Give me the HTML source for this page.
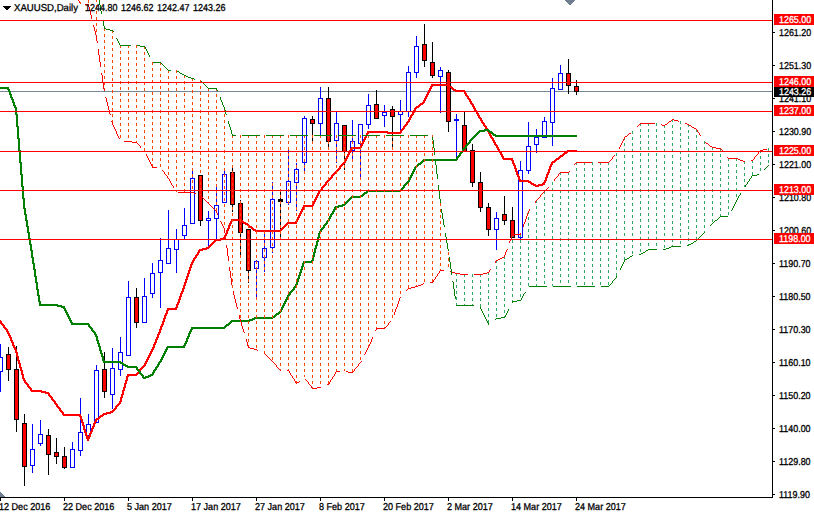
<!DOCTYPE html>
<html><head><meta charset="utf-8"><title>XAUUSD Daily</title>
<style>
html,body{margin:0;padding:0;background:#fff;}
body{width:814px;height:514px;position:relative;overflow:hidden;font-family:"Liberation Sans",sans-serif;}
.t{position:absolute;font-size:10px;line-height:11px;white-space:nowrap;transform-origin:0 0;text-rendering:geometricPrecision;-webkit-text-stroke:0.3px;font-family:"Liberation Sans",sans-serif;}
.b{position:absolute;left:774px;width:40px;overflow:hidden;}
</style></head><body>
<svg width="814" height="514" viewBox="0 0 814 514" shape-rendering="crispEdges" style="position:absolute;left:0;top:0"><path fill="rgb(255,0,0)" d="M774 14h40v11h-40zM0 20h772v1h-772zM447 73h3v9h-3zM567 74h3v8h-3zM447 83h3v1h-3zM423 45h3v15h-3zM774 76h40v11h-40zM0 82h772v1h-772zM109 110h1v1h-1zM327 99h3v12h-3zM375 105h3v6h-3zM391 110h3v1h-3zM447 88h3v23h-3zM327 112h3v23h-3zM343 126h3v9h-3zM343 136h1v2h-1zM345 136h1v2h-1zM343 138h3v3h-3zM774 105h40v11h-40zM343 141h1v3h-1zM345 141h1v3h-1zM343 144h3v3h-3zM464 92h2v1h-2zM0 111h772v1h-772zM471 104h3v1h-3zM345 147h1v3h-1zM343 150h3v1h-3zM231 173h1v1h-1zM233 173h1v1h-1zM231 174h3v3h-3zM327 138h3v3h-3zM199 176h1v3h-1zM201 176h1v3h-1zM231 177h1v3h-1zM233 177h1v3h-1zM479 118h3v1h-3zM774 145h40v11h-40zM199 179h3v3h-3zM231 180h3v3h-3zM199 182h1v3h-1zM201 182h1v3h-1zM231 183h1v3h-1zM233 183h1v3h-1zM0 151h772v1h-772zM199 185h3v3h-3zM231 189h1v1h-1zM233 189h1v1h-1zM479 183h3v7h-3zM231 186h3v3h-3zM199 188h1v2h-1zM201 188h1v2h-1zM199 191h3v3h-3zM231 191h1v1h-1zM233 191h1v1h-1zM199 195h3v2h-3zM231 192h3v3h-3zM231 195h1v3h-1zM233 195h1v3h-1zM239 204h3v3h-3zM239 207h1v3h-1zM241 207h1v3h-1zM239 210h3v3h-3zM231 201h1v3h-1zM241 213h1v3h-1zM239 213h1v3h-1zM511 160h3v1h-3zM239 216h3v3h-3zM239 221h1v1h-1zM241 219h1v1h-1zM239 223h3v2h-3zM239 225h1v3h-1zM241 225h1v3h-1zM247 225h1v1h-1zM249 225h1v1h-1zM774 184h40v11h-40zM247 230h3v1h-3zM511 221h3v13h-3zM247 231h1v3h-1zM249 231h1v3h-1zM0 190h772v1h-772zM247 234h3v3h-3zM247 237h1v2h-1zM249 237h1v2h-1zM247 240h3v3h-3zM247 243h1v3h-1zM249 243h1v3h-1zM247 246h3v3h-3zM247 249h1v3h-1zM249 249h1v3h-1zM502 157h2v1h-2zM247 252h3v3h-3zM500 153h2v1h-2zM498 150h2v1h-2zM496 146h2v1h-2zM247 255h1v3h-1zM249 255h1v3h-1zM247 258h3v3h-3zM247 261h1v3h-1zM249 261h1v3h-1zM231 219h1v2h-1zM430 86h3v1h-3zM418 105h3v1h-3zM408 119h3v1h-3zM233 201h1v3h-1zM239 231h1v1h-1zM241 231h1v1h-1zM247 267h1v3h-1zM7 333h3v1h-3zM361 147h1v1h-1zM15 352h3v1h-3zM140 146h1v2h-1zM346 157h2v1h-2zM335 171h1v1h-1zM295 221h1v1h-1zM297 218h2v2h-2zM329 136h1v2h-1zM23 380h3v1h-3zM55 404h3v1h-3zM78 0h1v1h-1zM79 1h1v2h-1zM85 4h4v1h-4zM88 5h1v2h-1zM89 7h1v4h-1zM90 11h1v4h-1zM774 233h40v11h-40zM91 15h1v4h-1zM0 239h772v1h-772zM93 25h1v2h-1zM94 27h1v4h-1zM95 31h1v4h-1zM96 35h1v6h-1zM97 41h1v2h-1zM423 100h3v1h-3zM98 49h1v6h-1zM99 55h1v7h-1zM100 62h1v5h-1zM431 63h3v12h-3zM101 73h1v2h-1zM447 112h3v9h-3zM567 83h3v2h-3zM102 75h1v7h-1zM103 83h1v6h-1zM431 84h19v2h-19zM430 282h3v1h-3zM447 86h5v1h-5zM430 87h2v1h-2zM447 87h6v1h-6zM575 87h3v4h-3zM429 88h3v1h-3zM451 88h3v1h-3zM104 89h1v2h-1zM429 89h2v1h-2zM452 89h4v1h-4zM428 90h3v1h-3zM453 90h12v1h-12zM428 91h2v1h-2zM455 91h11v1h-11zM427 92h3v1h-3zM464 150h2v1h-2zM427 93h2v1h-2zM464 93h3v1h-3zM426 94h3v1h-3zM465 94h2v1h-2zM426 95h2v1h-2zM465 95h3v1h-3zM425 96h3v1h-3zM466 96h3v1h-3zM105 97h1v1h-1zM425 97h2v1h-2zM467 97h2v1h-2zM106 98h1v4h-1zM424 98h3v1h-3zM467 98h3v1h-3zM327 180h3v1h-3zM424 99h2v1h-2zM468 99h3v1h-3zM469 100h2v1h-2zM423 101h2v1h-2zM469 101h3v1h-3zM107 102h1v4h-1zM422 102h3v1h-3zM470 102h2v1h-2zM420 103h4v1h-4zM470 103h3v1h-3zM419 104h4v1h-4zM471 152h3v30h-3zM375 112h3v6h-3zM418 285h3v1h-3zM472 105h2v1h-2zM108 106h1v4h-1zM416 106h4v1h-4zM472 106h3v1h-3zM415 107h4v1h-4zM473 107h2v1h-2zM414 108h3v1h-3zM473 108h3v1h-3zM414 109h2v1h-2zM474 109h2v1h-2zM109 112h1v2h-1zM391 112h3v4h-3zM413 110h3v1h-3zM474 110h3v1h-3zM412 112h3v1h-3zM476 112h2v1h-2zM412 113h2v1h-2zM476 113h3v1h-3zM110 114h1v1h-1zM411 114h3v1h-3zM477 114h2v1h-2zM410 115h3v1h-3zM477 115h3v1h-3zM410 116h2v1h-2zM478 116h2v1h-2zM409 117h3v1h-3zM478 117h3v1h-3zM409 118h2v1h-2zM479 191h3v16h-3zM408 288h3v1h-3zM480 119h2v1h-2zM672 119h2v1h-2zM311 120h3v3h-3zM408 120h2v1h-2zM480 120h3v1h-3zM671 120h1v1h-1zM674 120h4v1h-4zM111 121h1v1h-1zM407 121h3v1h-3zM481 121h2v1h-2zM669 121h2v1h-2zM678 121h1v1h-1zM112 122h1v3h-1zM406 122h3v1h-3zM481 122h3v1h-3zM668 122h1v1h-1zM406 123h2v1h-2zM482 123h3v1h-3zM640 123h15v1h-15zM667 123h1v1h-1zM685 123h2v1h-2zM405 124h3v1h-3zM483 124h2v1h-2zM639 124h1v1h-1zM661 124h1v1h-1zM665 124h2v1h-2zM687 124h2v1h-2zM113 125h1v2h-1zM404 125h3v1h-3zM483 125h3v1h-3zM638 125h1v1h-1zM662 125h3v1h-3zM689 125h2v1h-2zM343 162h3v1h-3zM403 126h3v1h-3zM463 126h3v19h-3zM484 126h3v1h-3zM637 126h1v1h-1zM691 126h1v1h-1zM114 127h1v2h-1zM403 127h2v1h-2zM485 127h2v1h-2zM692 127h2v1h-2zM402 128h3v1h-3zM485 128h3v1h-3zM694 128h2v1h-2zM115 129h1v2h-1zM401 129h3v1h-3zM696 129h1v1h-1zM400 130h3v1h-3zM697 130h1v2h-1zM116 131h1v3h-1zM367 131h21v1h-21zM400 131h2v1h-2zM487 131h1v1h-1zM367 132h35v1h-35zM488 132h1v1h-1zM698 132h1v1h-1zM366 133h3v1h-3zM387 133h14v1h-14zM488 133h3v1h-3zM629 133h2v1h-2zM699 133h1v2h-1zM117 134h1v2h-1zM366 134h2v1h-2zM489 134h2v1h-2zM628 134h1v1h-1zM489 135h3v1h-3zM627 135h1v1h-1zM700 135h1v1h-1zM118 136h1v2h-1zM327 136h1v2h-1zM329 382h1v2h-1zM343 147h1v3h-1zM345 161h1v1h-1zM365 136h2v1h-2zM490 136h2v1h-2zM625 136h2v1h-2zM364 137h3v1h-3zM490 137h3v1h-3zM624 137h1v2h-1zM119 138h1v1h-1zM364 138h2v1h-2zM491 138h3v1h-3zM363 139h3v1h-3zM492 139h2v1h-2zM623 139h1v2h-1zM363 140h2v1h-2zM492 140h3v1h-3zM124 141h8v1h-8zM362 141h3v1h-3zM493 141h2v1h-2zM622 141h1v2h-1zM132 142h5v1h-5zM362 142h2v1h-2zM493 142h3v1h-3zM705 142h1v1h-1zM137 143h1v1h-1zM361 143h3v1h-3zM494 143h2v1h-2zM621 143h1v2h-1zM706 143h2v1h-2zM138 144h1v1h-1zM361 144h2v1h-2zM494 144h3v1h-3zM708 144h1v1h-1zM139 145h1v1h-1zM360 145h3v1h-3zM463 145h2v2h-2zM495 145h3v1h-3zM620 145h1v2h-1zM709 145h1v1h-1zM140 370h1v1h-1zM360 146h2v1h-2zM496 260h2v1h-2zM710 146h2v1h-2zM351 147h1v1h-1zM353 147h7v2h-7zM361 361h1v1h-1zM463 147h1v1h-1zM496 147h3v1h-3zM619 147h1v2h-1zM712 147h4v1h-4zM350 148h2v2h-2zM497 148h2v1h-2zM716 148h5v1h-5zM465 149h1v1h-1zM497 149h3v1h-3zM721 149h1v1h-1zM763 149h4v1h-4zM349 150h3v1h-3zM498 259h2v1h-2zM567 150h10v1h-10zM722 150h1v1h-1zM760 150h3v1h-3zM348 152h3v1h-3zM499 152h3v1h-3zM564 152h4v1h-4zM758 152h1v2h-1zM348 153h2v1h-2zM500 258h2v1h-2zM563 153h4v1h-4zM146 154h1v2h-1zM347 154h3v1h-3zM500 154h3v1h-3zM562 154h3v1h-3zM757 154h1v1h-1zM347 155h2v1h-2zM501 155h2v1h-2zM560 155h4v1h-4zM614 155h1v1h-1zM756 155h1v1h-1zM147 156h1v2h-1zM346 156h3v1h-3zM501 156h3v1h-3zM559 156h4v1h-4zM613 156h1v1h-1zM755 156h1v1h-1zM346 371h2v1h-2zM502 257h2v1h-2zM558 157h3v1h-3zM612 157h1v2h-1zM727 157h1v1h-1zM754 157h1v2h-1zM148 158h1v2h-1zM345 158h3v1h-3zM502 158h11v1h-11zM556 158h4v1h-4zM728 158h10v1h-10zM345 159h2v2h-2zM503 159h10v1h-10zM555 159h4v1h-4zM611 159h1v1h-1zM738 159h2v1h-2zM753 159h1v1h-1zM149 160h1v2h-1zM511 235h3v1h-3zM554 160h3v1h-3zM610 160h1v1h-1zM740 160h3v1h-3zM751 160h2v1h-2zM512 161h2v2h-2zM552 161h4v1h-4zM609 161h1v1h-1zM743 161h2v1h-2zM150 162h1v2h-1zM551 162h4v1h-4zM576 162h16v1h-16zM598 162h11v1h-11zM342 163h3v1h-3zM512 163h3v1h-3zM551 163h2v1h-2zM575 163h1v1h-1zM151 164h1v2h-1zM341 164h3v1h-3zM513 164h2v1h-2zM550 164h3v1h-3zM574 164h1v1h-1zM340 165h3v1h-3zM513 165h3v1h-3zM550 165h2v1h-2zM152 166h1v1h-1zM339 166h3v1h-3zM514 166h2v2h-2zM549 166h3v1h-3zM152 167h5v1h-5zM339 167h2v1h-2zM549 167h2v2h-2zM338 168h3v1h-3zM514 168h3v1h-3zM337 169h3v1h-3zM515 169h2v2h-2zM548 169h3v1h-3zM162 170h1v1h-1zM336 170h3v1h-3zM548 170h2v2h-2zM163 171h1v1h-1zM335 372h1v2h-1zM337 171h1v1h-1zM515 171h3v1h-3zM569 171h1v1h-1zM164 172h1v2h-1zM334 172h2v1h-2zM516 172h2v2h-2zM547 172h3v1h-3zM560 172h9v1h-9zM231 278h1v7h-1zM233 291h1v4h-1zM333 173h3v1h-3zM547 173h2v1h-2zM559 173h1v1h-1zM165 174h1v1h-1zM231 198h3v3h-3zM332 174h3v1h-3zM516 174h3v1h-3zM546 174h3v1h-3zM558 174h1v2h-1zM166 175h1v1h-1zM331 175h3v1h-3zM517 175h2v1h-2zM546 175h2v2h-2zM167 176h1v2h-1zM199 194h1v1h-1zM201 194h1v1h-1zM331 176h2v1h-2zM517 176h3v1h-3zM557 176h1v1h-1zM330 177h3v1h-3zM518 177h2v2h-2zM545 177h3v1h-3zM556 177h1v1h-1zM168 178h1v1h-1zM329 178h3v1h-3zM545 178h2v2h-2zM555 178h1v1h-1zM169 179h1v2h-1zM199 198h3v22h-3zM329 179h2v1h-2zM518 179h3v1h-3zM554 179h1v2h-1zM519 180h10v1h-10zM544 180h3v1h-3zM170 181h1v2h-1zM326 181h3v1h-3zM519 181h12v1h-12zM544 181h2v1h-2zM325 182h3v1h-3zM528 182h4v1h-4zM543 182h3v1h-3zM171 183h1v2h-1zM325 183h2v1h-2zM530 183h4v1h-4zM542 183h3v1h-3zM324 184h3v1h-3zM531 184h5v1h-5zM538 184h7v1h-7zM172 185h1v1h-1zM323 185h3v1h-3zM533 185h10v1h-10zM173 186h1v2h-1zM322 186h3v1h-3zM535 186h4v1h-4zM321 187h3v1h-3zM548 187h1v1h-1zM321 188h2v2h-2zM547 188h1v1h-1zM546 189h1v1h-1zM318 191h2v2h-2zM544 191h1v1h-1zM178 192h16v1h-16zM543 192h1v1h-1zM194 193h2v1h-2zM317 193h3v1h-3zM542 193h1v1h-1zM317 194h2v1h-2zM541 194h1v1h-1zM316 195h3v1h-3zM540 195h1v2h-1zM316 196h2v1h-2zM199 197h4v1h-4zM315 197h3v1h-3zM539 197h1v1h-1zM203 198h1v1h-1zM315 198h2v1h-2zM538 198h1v1h-1zM204 199h1v1h-1zM314 199h3v1h-3zM537 199h1v1h-1zM205 200h1v1h-1zM314 200h2v1h-2zM536 200h1v1h-1zM206 201h1v1h-1zM313 201h3v1h-3zM535 201h1v2h-1zM207 202h1v1h-1zM313 202h2v2h-2zM208 203h1v1h-1zM209 204h1v1h-1zM239 228h3v3h-3zM312 204h2v1h-2zM210 205h1v1h-1zM303 205h11v1h-11zM211 206h1v1h-1zM303 206h10v1h-10zM212 207h1v1h-1zM239 315h1v4h-1zM241 322h1v4h-1zM302 207h2v2h-2zM213 208h1v1h-1zM487 208h3v21h-3zM214 209h1v1h-1zM301 209h3v1h-3zM529 209h1v2h-1zM215 210h1v1h-1zM301 210h2v1h-2zM216 211h1v2h-1zM300 211h3v1h-3zM528 211h1v2h-1zM300 212h2v1h-2zM217 213h1v2h-1zM299 213h3v1h-3zM527 213h1v3h-1zM299 214h2v1h-2zM298 215h3v1h-3zM503 215h3v5h-3zM298 216h2v1h-2zM526 216h1v3h-1zM297 217h3v1h-3zM297 382h2v1h-2zM233 219h7v2h-7zM525 219h1v3h-1zM241 220h2v1h-2zM297 220h1v2h-1zM220 221h1v1h-1zM230 221h2v2h-2zM241 221h3v1h-3zM295 381h1v2h-1zM221 222h1v2h-1zM239 222h7v1h-7zM287 222h10v1h-10zM524 222h1v2h-1zM229 223h3v1h-3zM243 223h5v1h-5zM286 223h11v1h-11zM222 224h1v2h-1zM229 224h2v1h-2zM245 224h4v1h-4zM285 224h3v1h-3zM523 224h1v3h-1zM228 225h3v1h-3zM247 342h1v4h-1zM249 267h1v3h-1zM284 225h3v1h-3zM223 226h1v2h-1zM228 226h2v2h-2zM249 226h3v1h-3zM283 226h3v1h-3zM249 227h4v1h-4zM282 227h3v1h-3zM224 228h1v5h-1zM227 228h3v1h-3zM251 228h3v1h-3zM281 228h3v1h-3zM227 229h2v1h-2zM252 229h4v1h-4zM280 229h3v1h-3zM226 230h3v1h-3zM247 264h3v3h-3zM253 230h29v1h-29zM226 231h2v2h-2zM255 231h1v1h-1zM257 231h7v1h-7zM265 231h7v1h-7zM273 231h7v1h-7zM225 233h3v1h-3zM520 233h1v1h-1zM225 234h2v1h-2zM511 234h10v1h-10zM224 235h3v1h-3zM224 236h2v1h-2zM511 236h1v3h-1zM513 236h1v1h-1zM223 237h3v1h-3zM220 238h6v1h-6zM214 240h7v1h-7zM510 240h1v1h-1zM213 241h3v1h-3zM509 241h1v2h-1zM212 242h3v1h-3zM211 243h3v1h-3zM210 244h3v1h-3zM209 245h3v1h-3zM226 245h1v3h-1zM208 246h3v1h-3zM206 247h4v1h-4zM202 248h7v1h-7zM227 248h1v8h-1zM199 249h8v1h-8zM507 249h1v1h-1zM198 250h5v1h-5zM506 250h1v2h-1zM198 251h2v1h-2zM197 252h3v1h-3zM505 252h1v3h-1zM197 253h2v1h-2zM196 254h3v1h-3zM195 255h3v1h-3zM504 255h1v2h-1zM195 256h2v1h-2zM228 256h1v5h-1zM194 257h3v1h-3zM193 258h3v1h-3zM193 259h2v1h-2zM192 260h3v1h-3zM192 261h2v1h-2zM495 261h1v2h-1zM191 262h3v1h-3zM191 263h2v1h-2zM190 264h3v1h-3zM190 265h2v2h-2zM189 267h3v1h-3zM229 267h1v4h-1zM189 268h2v2h-2zM490 269h1v1h-1zM188 270h3v1h-3zM440 270h4v1h-4zM489 270h1v2h-1zM188 271h2v2h-2zM230 271h1v7h-1zM439 271h1v2h-1zM450 271h1v1h-1zM452 272h3v1h-3zM487 272h2v1h-2zM187 273h3v1h-3zM438 273h1v1h-1zM455 273h5v1h-5zM483 273h4v1h-4zM187 274h2v2h-2zM437 274h1v2h-1zM460 274h8v1h-8zM474 274h9v1h-9zM186 276h3v1h-3zM436 276h1v1h-1zM186 277h2v2h-2zM435 277h1v2h-1zM185 279h3v1h-3zM434 279h1v1h-1zM185 280h2v2h-2zM433 280h1v2h-1zM184 282h3v1h-3zM184 283h2v2h-2zM423 283h1v1h-1zM421 284h2v1h-2zM183 285h3v1h-3zM183 286h2v2h-2zM415 286h3v1h-3zM411 287h4v1h-4zM182 288h3v1h-3zM182 289h2v2h-2zM407 289h1v1h-1zM406 290h1v1h-1zM181 291h3v1h-3zM181 292h2v1h-2zM180 293h3v1h-3zM180 294h2v2h-2zM234 295h1v4h-1zM179 296h3v1h-3zM179 297h2v2h-2zM400 297h1v1h-1zM135 298h3v24h-3zM399 298h1v3h-1zM178 299h3v1h-3zM235 299h1v4h-1zM178 300h2v2h-2zM398 301h1v3h-1zM177 302h3v1h-3zM177 303h2v1h-2zM236 303h1v4h-1zM176 304h3v1h-3zM397 304h1v3h-1zM176 305h2v2h-2zM175 307h3v1h-3zM237 307h1v2h-1zM396 307h1v2h-1zM167 308h10v2h-10zM395 309h1v3h-1zM166 310h3v1h-3zM166 311h2v2h-2zM394 312h1v3h-1zM165 313h3v1h-3zM165 314h2v1h-2zM164 315h3v1h-3zM164 316h2v2h-2zM163 318h3v1h-3zM163 319h2v2h-2zM240 319h1v3h-1zM0 320h1v1h-1zM0 321h2v2h-2zM162 321h3v1h-3zM390 321h1v1h-1zM162 322h2v2h-2zM389 322h1v1h-1zM0 323h3v1h-3zM388 323h1v2h-1zM1 324h3v1h-3zM161 324h3v1h-3zM2 325h3v1h-3zM161 325h2v1h-2zM387 325h1v1h-1zM3 326h2v1h-2zM160 326h3v1h-3zM242 326h1v3h-1zM386 326h1v1h-1zM3 327h3v1h-3zM160 327h2v2h-2zM385 327h1v1h-1zM4 328h3v1h-3zM376 328h9v1h-9zM5 329h3v1h-3zM159 329h3v1h-3zM243 329h1v3h-1zM376 329h1v1h-1zM6 330h2v1h-2zM159 330h2v2h-2zM375 330h1v1h-1zM6 331h3v1h-3zM7 332h2v1h-2zM158 332h3v1h-3zM244 332h1v1h-1zM7 355h3v14h-3zM158 333h2v1h-2zM8 334h2v1h-2zM157 334h3v1h-3zM8 335h3v1h-3zM157 335h2v2h-2zM9 336h2v1h-2zM9 337h3v1h-3zM156 337h3v1h-3zM372 337h1v2h-1zM10 338h2v2h-2zM156 338h2v1h-2zM155 339h3v1h-3zM246 339h1v3h-1zM371 339h1v3h-1zM10 340h3v1h-3zM155 340h2v2h-2zM11 341h2v1h-2zM11 342h3v1h-3zM154 342h3v1h-3zM370 342h1v2h-1zM12 343h2v2h-2zM154 343h2v1h-2zM153 344h3v1h-3zM369 344h1v2h-1zM12 345h3v1h-3zM153 345h2v2h-2zM13 346h2v1h-2zM248 346h1v1h-1zM368 346h1v2h-1zM13 347h3v1h-3zM152 347h3v1h-3zM248 347h2v1h-2zM14 348h2v1h-2zM152 348h2v1h-2zM250 348h4v1h-4zM367 348h1v2h-1zM14 349h3v1h-3zM151 349h3v1h-3zM254 349h3v1h-3zM15 350h2v2h-2zM151 350h2v1h-2zM257 350h1v1h-1zM366 350h1v2h-1zM150 351h3v1h-3zM15 370h3v49h-3zM150 352h2v1h-2zM365 352h1v2h-1zM16 353h2v3h-2zM149 353h3v1h-3zM264 353h1v1h-1zM149 354h2v1h-2zM265 354h1v1h-1zM364 354h1v1h-1zM148 355h3v1h-3zM266 355h1v1h-1zM16 356h3v1h-3zM148 356h2v1h-2zM267 356h1v1h-1zM17 357h2v3h-2zM147 357h3v1h-3zM268 357h1v1h-1zM147 358h2v1h-2zM269 358h1v1h-1zM146 359h3v1h-3zM270 359h1v1h-1zM17 360h3v1h-3zM146 360h2v1h-2zM271 360h1v1h-1zM18 361h2v2h-2zM145 361h3v1h-3zM272 361h1v1h-1zM145 362h2v1h-2zM273 362h1v1h-1zM360 362h1v1h-1zM18 363h3v1h-3zM144 363h3v1h-3zM274 363h1v1h-1zM359 363h1v1h-1zM19 364h2v3h-2zM144 364h2v1h-2zM275 364h1v1h-1zM358 364h1v2h-1zM143 365h3v1h-3zM276 365h1v2h-1zM142 366h3v1h-3zM357 366h1v1h-1zM19 367h3v1h-3zM141 367h3v1h-3zM277 367h1v1h-1zM356 367h1v1h-1zM20 368h2v2h-2zM140 368h3v1h-3zM278 368h1v1h-1zM355 368h1v1h-1zM139 369h3v1h-3zM279 369h1v1h-1zM354 369h1v2h-1zM20 370h3v1h-3zM103 370h3v21h-3zM280 370h1v1h-1zM287 370h2v1h-2zM21 371h2v3h-2zM289 371h1v2h-1zM336 371h4v1h-4zM353 371h1v1h-1zM137 372h2v1h-2zM348 372h5v1h-5zM136 373h3v1h-3zM290 373h1v2h-1zM21 374h3v1h-3zM127 374h11v1h-11zM334 374h1v2h-1zM22 375h2v3h-2zM127 375h10v1h-10zM291 375h1v1h-1zM126 376h3v1h-3zM292 376h1v2h-1zM333 376h1v1h-1zM126 377h2v3h-2zM332 377h1v2h-1zM22 378h3v1h-3zM293 378h1v1h-1zM23 379h2v1h-2zM294 379h1v2h-1zM305 379h1v1h-1zM331 379h1v1h-1zM23 424h3v42h-3zM125 380h3v1h-3zM306 380h1v1h-1zM330 380h1v2h-1zM24 381h2v1h-2zM125 381h2v2h-2zM299 381h1v1h-1zM307 381h1v1h-1zM24 382h3v1h-3zM308 382h1v2h-1zM25 383h3v1h-3zM124 383h3v1h-3zM296 383h1v1h-1zM26 384h3v1h-3zM124 384h2v3h-2zM309 384h1v1h-1zM327 384h2v1h-2zM27 385h2v1h-2zM310 385h1v1h-1zM27 386h3v1h-3zM311 386h1v2h-1zM28 387h3v1h-3zM123 387h3v1h-3zM317 387h4v1h-4zM29 388h3v1h-3zM123 388h2v2h-2zM312 388h5v1h-5zM30 389h2v1h-2zM30 390h12v1h-12zM122 390h3v1h-3zM31 391h15v1h-15zM122 391h2v3h-2zM41 392h8v1h-8zM45 393h5v1h-5zM48 394h2v1h-2zM121 394h3v1h-3zM48 395h3v1h-3zM121 395h2v2h-2zM49 396h3v1h-3zM50 397h3v1h-3zM120 397h3v1h-3zM51 398h2v1h-2zM120 398h2v3h-2zM51 399h3v1h-3zM52 400h3v1h-3zM53 401h3v1h-3zM119 401h3v1h-3zM54 402h2v1h-2zM119 402h2v1h-2zM54 403h3v1h-3zM118 403h3v1h-3zM55 453h3v3h-3zM117 404h3v1h-3zM56 405h2v1h-2zM116 405h3v1h-3zM56 406h3v1h-3zM115 406h3v1h-3zM57 407h3v1h-3zM115 407h2v1h-2zM58 408h3v1h-3zM114 408h3v1h-3zM59 409h2v1h-2zM113 409h3v1h-3zM59 410h3v1h-3zM112 410h3v1h-3zM60 411h3v1h-3zM110 411h4v1h-4zM61 412h3v1h-3zM106 412h7v1h-7zM62 413h2v1h-2zM103 413h8v1h-8zM62 414h19v1h-19zM102 414h5v1h-5zM63 415h18v1h-18zM100 415h4v1h-4zM79 416h3v1h-3zM99 416h4v1h-4zM80 417h2v2h-2zM98 417h3v1h-3zM96 418h4v1h-4zM80 419h3v1h-3zM95 419h4v1h-4zM81 420h2v2h-2zM95 420h2v1h-2zM94 421h3v1h-3zM81 422h3v1h-3zM94 422h2v1h-2zM82 423h2v2h-2zM93 423h3v1h-3zM93 424h2v2h-2zM82 425h3v1h-3zM83 426h2v3h-2zM92 426h3v1h-3zM92 427h2v1h-2zM91 428h3v1h-3zM83 429h3v1h-3zM91 429h2v2h-2zM84 430h2v2h-2zM90 431h3v1h-3zM84 432h3v1h-3zM90 432h2v1h-2zM85 433h2v2h-2zM89 433h3v1h-3zM89 434h2v2h-2zM85 435h3v1h-3zM47 436h3v18h-3zM86 436h5v1h-5zM86 437h4v2h-4zM87 439h2v2h-2zM63 457h3v10h-3z"/><path fill="rgb(255,69,0)" d="M96 0h1v2h-1zM96 5h1v3h-1zM96 11h1v3h-1zM96 17h1v3h-1zM96 23h1v3h-1zM104 29h1v2h-1zM112 31h1v2h-1zM104 34h1v3h-1zM112 36h1v3h-1zM104 40h1v3h-1zM112 42h1v3h-1zM120 46h1v2h-1zM128 46h1v2h-1zM136 45h1v3h-1zM104 46h1v3h-1zM144 47h1v2h-1zM112 48h1v3h-1zM120 51h1v3h-1zM128 51h1v3h-1zM136 51h1v3h-1zM104 52h1v3h-1zM144 52h1v3h-1zM112 54h1v3h-1zM120 57h1v3h-1zM128 57h1v3h-1zM136 57h1v3h-1zM104 58h1v3h-1zM144 58h1v3h-1zM112 60h1v3h-1zM152 62h1v3h-1zM160 63h1v2h-1zM120 63h1v3h-1zM128 63h1v3h-1zM136 63h1v3h-1zM104 64h1v3h-1zM144 64h1v3h-1zM112 66h1v3h-1zM152 68h1v3h-1zM160 68h1v3h-1zM120 69h1v3h-1zM128 69h1v3h-1zM136 69h1v3h-1zM104 70h1v3h-1zM144 70h1v3h-1zM168 71h1v2h-1zM176 70h1v3h-1zM112 72h1v3h-1zM152 74h1v3h-1zM160 74h1v3h-1zM120 75h1v3h-1zM128 75h1v3h-1zM136 75h1v3h-1zM184 76h1v2h-1zM104 76h1v3h-1zM120 81h1v1h-1zM128 81h1v1h-1zM136 81h1v1h-1zM144 76h1v3h-1zM168 76h1v3h-1zM176 76h1v3h-1zM184 81h1v1h-1zM112 78h1v3h-1zM192 79h1v2h-1zM152 80h1v2h-1zM160 80h1v2h-1zM200 80h1v2h-1zM120 83h1v1h-1zM128 83h1v1h-1zM136 83h1v1h-1zM184 83h1v1h-1zM104 83h1v2h-1zM144 83h1v2h-1zM168 83h1v2h-1zM176 83h1v2h-1zM112 84h1v3h-1zM192 84h1v3h-1zM152 86h1v3h-1zM160 86h1v3h-1zM200 86h1v3h-1zM120 87h1v3h-1zM128 87h1v3h-1zM136 87h1v3h-1zM184 87h1v3h-1zM144 88h1v3h-1zM168 88h1v3h-1zM176 88h1v3h-1zM208 89h1v2h-1zM216 90h1v1h-1zM112 90h1v3h-1zM192 90h1v3h-1zM152 92h1v3h-1zM160 92h1v3h-1zM200 92h1v3h-1zM120 93h1v3h-1zM128 93h1v3h-1zM136 93h1v3h-1zM184 93h1v3h-1zM144 94h1v3h-1zM168 94h1v3h-1zM176 94h1v3h-1zM208 94h1v3h-1zM216 94h1v3h-1zM112 96h1v3h-1zM192 96h1v3h-1zM152 98h1v3h-1zM160 98h1v3h-1zM200 98h1v3h-1zM120 99h1v3h-1zM128 99h1v3h-1zM136 99h1v3h-1zM184 99h1v3h-1zM144 100h1v3h-1zM168 100h1v3h-1zM176 100h1v3h-1zM208 100h1v3h-1zM216 100h1v3h-1zM112 102h1v3h-1zM192 102h1v3h-1zM152 104h1v3h-1zM160 104h1v3h-1zM200 104h1v3h-1zM120 105h1v3h-1zM128 105h1v3h-1zM136 105h1v3h-1zM144 106h1v3h-1zM152 110h1v1h-1zM160 110h1v1h-1zM168 106h1v3h-1zM176 106h1v3h-1zM184 105h1v3h-1zM200 110h1v1h-1zM208 106h1v3h-1zM216 106h1v3h-1zM112 108h1v3h-1zM192 108h1v3h-1zM224 110h1v1h-1zM152 112h1v1h-1zM160 112h1v1h-1zM200 112h1v1h-1zM120 112h1v2h-1zM128 112h1v2h-1zM136 112h1v2h-1zM184 112h1v2h-1zM144 112h1v3h-1zM168 112h1v3h-1zM176 112h1v3h-1zM208 112h1v3h-1zM216 112h1v3h-1zM112 114h1v3h-1zM192 114h1v3h-1zM224 114h1v3h-1zM152 116h1v3h-1zM160 116h1v3h-1zM200 116h1v3h-1zM120 117h1v3h-1zM128 117h1v3h-1zM136 117h1v3h-1zM184 117h1v3h-1zM144 118h1v3h-1zM168 118h1v3h-1zM176 118h1v3h-1zM208 118h1v3h-1zM216 118h1v3h-1zM192 120h1v3h-1zM224 120h1v3h-1zM152 122h1v3h-1zM160 122h1v3h-1zM200 122h1v3h-1zM120 123h1v3h-1zM128 123h1v3h-1zM136 123h1v3h-1zM184 123h1v3h-1zM144 124h1v3h-1zM168 124h1v3h-1zM176 124h1v3h-1zM208 124h1v3h-1zM216 124h1v3h-1zM192 126h1v3h-1zM224 126h1v3h-1zM152 128h1v3h-1zM160 128h1v3h-1zM200 128h1v3h-1zM120 129h1v3h-1zM128 129h1v3h-1zM136 129h1v3h-1zM184 129h1v3h-1zM144 130h1v3h-1zM168 130h1v3h-1zM176 130h1v3h-1zM208 130h1v3h-1zM216 130h1v3h-1zM192 132h1v3h-1zM224 132h1v3h-1zM152 134h1v3h-1zM160 134h1v3h-1zM200 134h1v3h-1zM136 135h1v3h-1zM184 135h1v3h-1zM232 136h1v2h-1zM240 135h1v3h-1zM248 136h1v2h-1zM256 136h1v2h-1zM264 135h1v3h-1zM272 136h1v2h-1zM280 136h1v2h-1zM288 135h1v3h-1zM296 136h1v2h-1zM304 136h1v2h-1zM312 135h1v3h-1zM320 136h1v2h-1zM328 136h1v2h-1zM336 135h1v3h-1zM344 136h1v2h-1zM352 136h1v2h-1zM360 135h1v3h-1zM368 136h1v2h-1zM376 136h1v2h-1zM384 135h1v3h-1zM392 136h1v2h-1zM400 136h1v2h-1zM408 135h1v3h-1zM416 136h1v2h-1zM424 136h1v2h-1zM432 135h1v2h-1zM144 136h1v3h-1zM168 136h1v3h-1zM176 136h1v3h-1zM208 136h1v3h-1zM216 136h1v3h-1zM192 138h1v3h-1zM224 138h1v3h-1zM152 140h1v3h-1zM160 140h1v3h-1zM200 140h1v3h-1zM184 141h1v3h-1zM232 141h1v3h-1zM240 141h1v3h-1zM248 141h1v3h-1zM256 141h1v3h-1zM264 141h1v3h-1zM272 141h1v3h-1zM280 141h1v3h-1zM288 141h1v3h-1zM296 141h1v3h-1zM304 141h1v3h-1zM312 141h1v3h-1zM320 141h1v3h-1zM328 141h1v3h-1zM336 141h1v3h-1zM344 141h1v3h-1zM352 141h1v3h-1zM360 141h1v3h-1zM368 141h1v3h-1zM376 141h1v3h-1zM384 141h1v3h-1zM392 141h1v3h-1zM400 141h1v3h-1zM408 141h1v3h-1zM416 141h1v3h-1zM424 141h1v3h-1zM432 141h1v3h-1zM144 142h1v3h-1zM168 142h1v3h-1zM176 142h1v3h-1zM208 142h1v3h-1zM216 142h1v3h-1zM192 144h1v3h-1zM224 144h1v3h-1zM152 146h1v3h-1zM160 146h1v3h-1zM192 150h1v1h-1zM200 146h1v3h-1zM224 150h1v1h-1zM184 147h1v3h-1zM232 147h1v3h-1zM240 147h1v3h-1zM248 147h1v3h-1zM256 147h1v3h-1zM264 147h1v3h-1zM272 147h1v3h-1zM280 147h1v3h-1zM288 147h1v3h-1zM296 147h1v3h-1zM304 147h1v3h-1zM312 147h1v3h-1zM320 147h1v3h-1zM328 147h1v3h-1zM336 147h1v3h-1zM344 147h1v3h-1zM352 147h1v3h-1zM360 147h1v3h-1zM368 147h1v3h-1zM376 147h1v3h-1zM384 147h1v3h-1zM392 147h1v3h-1zM400 147h1v3h-1zM408 147h1v3h-1zM416 147h1v3h-1zM424 147h1v3h-1zM432 147h1v3h-1zM168 148h1v3h-1zM176 148h1v3h-1zM208 148h1v3h-1zM216 148h1v3h-1zM192 152h1v1h-1zM224 152h1v1h-1zM152 152h1v3h-1zM160 152h1v3h-1zM200 152h1v3h-1zM184 153h1v3h-1zM232 153h1v3h-1zM240 153h1v3h-1zM248 153h1v3h-1zM256 153h1v3h-1zM264 153h1v3h-1zM272 153h1v3h-1zM280 153h1v3h-1zM288 153h1v3h-1zM296 153h1v3h-1zM304 153h1v3h-1zM312 153h1v3h-1zM320 153h1v3h-1zM328 153h1v3h-1zM336 153h1v3h-1zM344 153h1v3h-1zM352 153h1v3h-1zM360 153h1v3h-1zM368 153h1v3h-1zM376 153h1v3h-1zM384 153h1v3h-1zM392 153h1v3h-1zM400 153h1v3h-1zM408 153h1v3h-1zM416 153h1v3h-1zM424 153h1v3h-1zM432 153h1v3h-1zM168 154h1v3h-1zM176 154h1v3h-1zM208 154h1v3h-1zM216 154h1v3h-1zM192 156h1v3h-1zM224 156h1v3h-1zM152 158h1v3h-1zM160 158h1v3h-1zM200 158h1v3h-1zM184 159h1v3h-1zM232 159h1v3h-1zM240 159h1v3h-1zM248 159h1v3h-1zM256 159h1v3h-1zM264 159h1v3h-1zM272 159h1v3h-1zM280 159h1v3h-1zM288 159h1v3h-1zM296 159h1v3h-1zM304 159h1v3h-1zM312 159h1v3h-1zM320 159h1v3h-1zM328 159h1v3h-1zM336 159h1v3h-1zM344 159h1v3h-1zM352 159h1v3h-1zM360 159h1v3h-1zM368 159h1v3h-1zM376 159h1v3h-1zM384 159h1v3h-1zM392 159h1v3h-1zM400 159h1v3h-1zM408 159h1v3h-1zM416 159h1v3h-1zM424 159h1v3h-1zM432 159h1v3h-1zM168 160h1v3h-1zM176 160h1v3h-1zM208 160h1v3h-1zM216 160h1v3h-1zM192 162h1v3h-1zM224 162h1v3h-1zM200 164h1v3h-1zM184 165h1v3h-1zM232 165h1v3h-1zM240 165h1v3h-1zM248 165h1v3h-1zM256 165h1v3h-1zM264 165h1v3h-1zM272 165h1v3h-1zM280 165h1v3h-1zM288 165h1v3h-1zM296 165h1v3h-1zM304 165h1v3h-1zM312 165h1v3h-1zM320 165h1v3h-1zM328 165h1v3h-1zM336 165h1v3h-1zM344 165h1v3h-1zM352 165h1v3h-1zM360 165h1v3h-1zM368 165h1v3h-1zM376 165h1v3h-1zM384 165h1v3h-1zM392 165h1v3h-1zM400 165h1v3h-1zM408 165h1v3h-1zM416 165h1v3h-1zM424 165h1v3h-1zM432 165h1v3h-1zM168 166h1v3h-1zM176 166h1v3h-1zM208 166h1v3h-1zM216 166h1v3h-1zM192 168h1v3h-1zM224 168h1v3h-1zM200 170h1v3h-1zM184 171h1v3h-1zM232 171h1v3h-1zM240 171h1v3h-1zM248 171h1v3h-1zM256 171h1v3h-1zM264 171h1v3h-1zM272 171h1v3h-1zM280 171h1v3h-1zM288 171h1v3h-1zM296 171h1v3h-1zM304 171h1v3h-1zM312 171h1v3h-1zM320 171h1v3h-1zM328 171h1v3h-1zM336 171h1v3h-1zM344 171h1v3h-1zM352 171h1v3h-1zM360 171h1v3h-1zM368 171h1v3h-1zM376 171h1v3h-1zM384 171h1v3h-1zM392 171h1v3h-1zM400 171h1v3h-1zM408 171h1v3h-1zM416 171h1v3h-1zM424 171h1v3h-1zM432 171h1v3h-1zM176 172h1v3h-1zM208 172h1v3h-1zM216 172h1v3h-1zM192 174h1v3h-1zM224 174h1v3h-1zM200 176h1v3h-1zM184 177h1v3h-1zM232 177h1v3h-1zM240 177h1v3h-1zM248 177h1v3h-1zM256 177h1v3h-1zM264 177h1v3h-1zM272 177h1v3h-1zM280 177h1v3h-1zM288 177h1v3h-1zM296 177h1v3h-1zM304 177h1v3h-1zM312 177h1v3h-1zM320 177h1v3h-1zM328 177h1v3h-1zM336 177h1v3h-1zM344 177h1v3h-1zM352 177h1v3h-1zM360 177h1v3h-1zM368 177h1v3h-1zM376 177h1v3h-1zM384 177h1v3h-1zM392 177h1v3h-1zM400 177h1v3h-1zM408 177h1v3h-1zM416 177h1v3h-1zM424 177h1v3h-1zM432 177h1v3h-1zM176 178h1v3h-1zM208 178h1v3h-1zM216 178h1v3h-1zM192 180h1v3h-1zM224 180h1v3h-1zM200 182h1v3h-1zM184 183h1v3h-1zM232 183h1v3h-1zM240 183h1v3h-1zM248 183h1v3h-1zM256 183h1v3h-1zM264 183h1v3h-1zM272 183h1v3h-1zM280 183h1v3h-1zM288 183h1v3h-1zM296 183h1v3h-1zM304 183h1v3h-1zM312 183h1v3h-1zM320 183h1v3h-1zM328 183h1v3h-1zM336 183h1v3h-1zM344 183h1v3h-1zM352 183h1v3h-1zM360 183h1v3h-1zM368 183h1v3h-1zM376 183h1v3h-1zM384 183h1v3h-1zM392 183h1v3h-1zM400 183h1v3h-1zM408 183h1v3h-1zM416 183h1v3h-1zM424 183h1v3h-1zM432 183h1v3h-1zM176 184h1v3h-1zM184 189h1v1h-1zM208 184h1v3h-1zM216 184h1v3h-1zM232 189h1v1h-1zM240 189h1v1h-1zM248 189h1v1h-1zM256 189h1v1h-1zM264 189h1v1h-1zM272 189h1v1h-1zM280 189h1v1h-1zM288 189h1v1h-1zM296 189h1v1h-1zM304 189h1v1h-1zM312 189h1v1h-1zM320 189h1v1h-1zM328 189h1v1h-1zM336 189h1v1h-1zM344 189h1v1h-1zM352 189h1v1h-1zM360 189h1v1h-1zM368 189h1v1h-1zM376 189h1v1h-1zM384 189h1v1h-1zM392 189h1v1h-1zM400 189h1v1h-1zM408 189h1v1h-1zM416 189h1v1h-1zM424 189h1v1h-1zM432 189h1v1h-1zM224 186h1v3h-1zM200 188h1v2h-1zM232 191h1v1h-1zM240 191h1v1h-1zM248 191h1v1h-1zM256 191h1v1h-1zM264 191h1v1h-1zM272 191h1v1h-1zM280 191h1v1h-1zM288 191h1v1h-1zM296 191h1v1h-1zM304 191h1v1h-1zM312 191h1v1h-1zM320 191h1v1h-1zM328 191h1v1h-1zM336 191h1v1h-1zM344 191h1v1h-1zM352 191h1v1h-1zM360 191h1v1h-1zM368 191h1v1h-1zM376 191h1v1h-1zM384 191h1v1h-1zM392 191h1v1h-1zM400 191h1v1h-1zM408 191h1v1h-1zM416 191h1v1h-1zM424 191h1v1h-1zM432 191h1v1h-1zM208 191h1v2h-1zM216 191h1v2h-1zM224 192h1v3h-1zM232 195h1v3h-1zM240 195h1v3h-1zM248 195h1v3h-1zM256 195h1v3h-1zM264 195h1v3h-1zM272 195h1v3h-1zM280 195h1v3h-1zM288 195h1v3h-1zM296 195h1v3h-1zM304 195h1v3h-1zM312 195h1v3h-1zM320 195h1v3h-1zM328 195h1v3h-1zM336 195h1v3h-1zM344 195h1v3h-1zM352 195h1v3h-1zM360 195h1v3h-1zM368 195h1v3h-1zM376 195h1v3h-1zM384 195h1v3h-1zM392 195h1v3h-1zM400 195h1v3h-1zM408 195h1v3h-1zM416 195h1v3h-1zM424 195h1v3h-1zM432 195h1v3h-1zM208 196h1v3h-1zM216 196h1v3h-1zM224 198h1v3h-1zM232 201h1v3h-1zM240 201h1v3h-1zM248 201h1v3h-1zM256 201h1v3h-1zM264 201h1v3h-1zM272 201h1v3h-1zM280 201h1v3h-1zM288 201h1v3h-1zM296 201h1v3h-1zM304 201h1v3h-1zM312 201h1v3h-1zM320 201h1v3h-1zM328 201h1v3h-1zM336 201h1v3h-1zM344 201h1v3h-1zM352 201h1v3h-1zM360 201h1v3h-1zM368 201h1v3h-1zM376 201h1v3h-1zM384 201h1v3h-1zM392 201h1v3h-1zM400 201h1v3h-1zM408 201h1v3h-1zM416 201h1v3h-1zM424 201h1v3h-1zM432 201h1v3h-1zM216 202h1v3h-1zM440 203h1v3h-1zM224 204h1v3h-1zM232 207h1v3h-1zM240 207h1v3h-1zM248 207h1v3h-1zM256 207h1v3h-1zM264 207h1v3h-1zM272 207h1v3h-1zM280 207h1v3h-1zM288 207h1v3h-1zM296 207h1v3h-1zM304 207h1v3h-1zM312 207h1v3h-1zM320 207h1v3h-1zM328 207h1v3h-1zM336 207h1v3h-1zM344 207h1v3h-1zM352 207h1v3h-1zM360 207h1v3h-1zM368 207h1v3h-1zM376 207h1v3h-1zM384 207h1v3h-1zM392 207h1v3h-1zM400 207h1v3h-1zM408 207h1v3h-1zM416 207h1v3h-1zM424 207h1v3h-1zM432 207h1v3h-1zM440 209h1v3h-1zM224 210h1v3h-1zM232 213h1v3h-1zM240 213h1v3h-1zM248 213h1v3h-1zM256 213h1v3h-1zM264 213h1v3h-1zM272 213h1v3h-1zM280 213h1v3h-1zM288 213h1v3h-1zM296 213h1v3h-1zM304 213h1v3h-1zM312 213h1v3h-1zM320 213h1v3h-1zM328 213h1v3h-1zM336 213h1v3h-1zM344 213h1v3h-1zM352 213h1v3h-1zM360 213h1v3h-1zM368 213h1v3h-1zM376 213h1v3h-1zM384 213h1v3h-1zM392 213h1v3h-1zM400 213h1v3h-1zM408 213h1v3h-1zM416 213h1v3h-1zM424 213h1v3h-1zM432 213h1v3h-1zM440 215h1v3h-1zM224 216h1v3h-1zM232 219h1v3h-1zM240 219h1v3h-1zM248 219h1v3h-1zM256 219h1v3h-1zM264 219h1v3h-1zM272 219h1v3h-1zM280 219h1v3h-1zM288 219h1v3h-1zM296 219h1v3h-1zM304 219h1v3h-1zM312 219h1v3h-1zM320 219h1v3h-1zM328 219h1v3h-1zM336 219h1v3h-1zM344 219h1v3h-1zM352 219h1v3h-1zM360 219h1v3h-1zM368 219h1v3h-1zM376 219h1v3h-1zM384 219h1v3h-1zM392 219h1v3h-1zM400 219h1v3h-1zM408 219h1v3h-1zM416 219h1v3h-1zM424 219h1v3h-1zM432 219h1v3h-1zM440 221h1v3h-1zM232 225h1v3h-1zM240 225h1v3h-1zM248 225h1v3h-1zM256 225h1v3h-1zM264 225h1v3h-1zM272 225h1v3h-1zM280 225h1v3h-1zM288 225h1v3h-1zM296 225h1v3h-1zM304 225h1v3h-1zM312 225h1v3h-1zM320 225h1v3h-1zM328 225h1v3h-1zM336 225h1v3h-1zM344 225h1v3h-1zM352 225h1v3h-1zM360 225h1v3h-1zM368 225h1v3h-1zM376 225h1v3h-1zM384 225h1v3h-1zM392 225h1v3h-1zM400 225h1v3h-1zM408 225h1v3h-1zM416 225h1v3h-1zM424 225h1v3h-1zM432 225h1v3h-1zM440 227h1v3h-1zM232 231h1v3h-1zM240 231h1v3h-1zM248 231h1v3h-1zM256 231h1v3h-1zM264 231h1v3h-1zM272 231h1v3h-1zM280 231h1v3h-1zM288 231h1v3h-1zM296 231h1v3h-1zM304 231h1v3h-1zM312 231h1v3h-1zM320 231h1v3h-1zM328 231h1v3h-1zM336 231h1v3h-1zM344 231h1v3h-1zM352 231h1v3h-1zM360 231h1v3h-1zM368 231h1v3h-1zM376 231h1v3h-1zM384 231h1v3h-1zM392 231h1v3h-1zM400 231h1v3h-1zM408 231h1v3h-1zM416 231h1v3h-1zM424 231h1v3h-1zM432 231h1v3h-1zM440 233h1v3h-1zM232 237h1v2h-1zM240 237h1v2h-1zM248 237h1v2h-1zM256 237h1v2h-1zM264 237h1v2h-1zM272 237h1v2h-1zM280 237h1v2h-1zM288 237h1v2h-1zM296 237h1v2h-1zM304 237h1v2h-1zM312 237h1v2h-1zM320 237h1v2h-1zM328 237h1v2h-1zM336 237h1v2h-1zM344 237h1v2h-1zM352 237h1v2h-1zM360 237h1v2h-1zM368 237h1v2h-1zM376 237h1v2h-1zM384 237h1v2h-1zM392 237h1v2h-1zM400 237h1v2h-1zM408 237h1v2h-1zM416 237h1v2h-1zM424 237h1v2h-1zM432 237h1v2h-1zM440 240h1v2h-1zM232 243h1v3h-1zM240 243h1v3h-1zM248 243h1v3h-1zM256 243h1v3h-1zM264 243h1v3h-1zM272 243h1v3h-1zM280 243h1v3h-1zM288 243h1v3h-1zM296 243h1v3h-1zM304 243h1v3h-1zM312 243h1v3h-1zM320 243h1v3h-1zM328 243h1v3h-1zM336 243h1v3h-1zM344 243h1v3h-1zM352 243h1v3h-1zM360 243h1v3h-1zM368 243h1v3h-1zM376 243h1v3h-1zM384 243h1v3h-1zM392 243h1v3h-1zM400 243h1v3h-1zM408 243h1v3h-1zM416 243h1v3h-1zM424 243h1v3h-1zM432 243h1v3h-1zM440 245h1v3h-1zM232 249h1v3h-1zM240 249h1v3h-1zM248 249h1v3h-1zM256 249h1v3h-1zM264 249h1v3h-1zM272 249h1v3h-1zM280 249h1v3h-1zM288 249h1v3h-1zM296 249h1v3h-1zM304 249h1v3h-1zM312 249h1v3h-1zM320 249h1v3h-1zM328 249h1v3h-1zM336 249h1v3h-1zM344 249h1v3h-1zM352 249h1v3h-1zM360 249h1v3h-1zM368 249h1v3h-1zM376 249h1v3h-1zM384 249h1v3h-1zM392 249h1v3h-1zM400 249h1v3h-1zM408 249h1v3h-1zM416 249h1v3h-1zM424 249h1v3h-1zM432 249h1v3h-1zM440 251h1v3h-1zM448 252h1v3h-1zM232 255h1v3h-1zM240 255h1v3h-1zM248 255h1v3h-1zM256 255h1v3h-1zM264 255h1v3h-1zM272 255h1v3h-1zM280 255h1v3h-1zM288 255h1v3h-1zM296 255h1v3h-1zM304 255h1v3h-1zM312 255h1v3h-1zM320 255h1v3h-1zM328 255h1v3h-1zM336 255h1v3h-1zM344 255h1v3h-1zM352 255h1v3h-1zM360 255h1v3h-1zM368 255h1v3h-1zM376 255h1v3h-1zM384 255h1v3h-1zM392 255h1v3h-1zM400 255h1v3h-1zM408 255h1v3h-1zM416 255h1v3h-1zM424 255h1v3h-1zM432 255h1v3h-1zM440 257h1v3h-1zM448 258h1v3h-1zM232 261h1v3h-1zM240 261h1v3h-1zM248 261h1v3h-1zM256 261h1v3h-1zM264 261h1v3h-1zM272 261h1v3h-1zM280 261h1v3h-1zM288 261h1v3h-1zM296 261h1v3h-1zM304 261h1v3h-1zM312 261h1v3h-1zM320 261h1v3h-1zM328 261h1v3h-1zM336 261h1v3h-1zM344 261h1v3h-1zM352 261h1v3h-1zM360 261h1v3h-1zM368 261h1v3h-1zM376 261h1v3h-1zM384 261h1v3h-1zM392 261h1v3h-1zM400 261h1v3h-1zM408 261h1v3h-1zM416 261h1v3h-1zM424 261h1v3h-1zM432 261h1v3h-1zM440 263h1v3h-1zM232 267h1v3h-1zM240 267h1v3h-1zM248 267h1v3h-1zM256 267h1v3h-1zM264 267h1v3h-1zM272 267h1v3h-1zM280 267h1v3h-1zM288 267h1v3h-1zM296 267h1v3h-1zM304 267h1v3h-1zM312 267h1v3h-1zM320 267h1v3h-1zM328 267h1v3h-1zM336 267h1v3h-1zM344 267h1v3h-1zM352 267h1v3h-1zM360 267h1v3h-1zM368 267h1v3h-1zM376 267h1v3h-1zM384 267h1v3h-1zM392 267h1v3h-1zM400 267h1v3h-1zM408 267h1v3h-1zM416 267h1v3h-1zM424 267h1v3h-1zM432 267h1v3h-1zM232 273h1v3h-1zM240 273h1v3h-1zM248 273h1v3h-1zM256 273h1v3h-1zM264 273h1v3h-1zM272 273h1v3h-1zM280 273h1v3h-1zM288 273h1v3h-1zM296 273h1v3h-1zM304 273h1v3h-1zM312 273h1v3h-1zM320 273h1v3h-1zM328 273h1v3h-1zM336 273h1v3h-1zM344 273h1v3h-1zM352 273h1v3h-1zM360 273h1v3h-1zM368 273h1v3h-1zM376 273h1v3h-1zM384 273h1v3h-1zM392 273h1v3h-1zM400 273h1v3h-1zM408 273h1v3h-1zM416 273h1v3h-1zM424 273h1v3h-1zM432 273h1v3h-1zM232 279h1v3h-1zM240 279h1v3h-1zM248 279h1v3h-1zM256 279h1v3h-1zM264 279h1v3h-1zM272 279h1v3h-1zM280 279h1v3h-1zM288 279h1v3h-1zM296 279h1v3h-1zM304 279h1v3h-1zM312 279h1v3h-1zM320 279h1v3h-1zM328 279h1v3h-1zM336 279h1v3h-1zM344 279h1v3h-1zM352 279h1v3h-1zM360 279h1v3h-1zM368 279h1v3h-1zM376 279h1v3h-1zM384 279h1v3h-1zM392 279h1v3h-1zM400 279h1v3h-1zM408 279h1v3h-1zM416 279h1v3h-1zM240 285h1v3h-1zM248 285h1v3h-1zM256 285h1v3h-1zM264 285h1v3h-1zM272 285h1v3h-1zM280 285h1v3h-1zM288 285h1v3h-1zM296 285h1v3h-1zM304 285h1v3h-1zM312 285h1v3h-1zM320 285h1v3h-1zM328 285h1v3h-1zM336 285h1v3h-1zM344 285h1v3h-1zM352 285h1v3h-1zM360 285h1v3h-1zM368 285h1v3h-1zM376 285h1v3h-1zM384 285h1v3h-1zM392 285h1v3h-1zM400 285h1v3h-1zM240 291h1v3h-1zM248 291h1v3h-1zM256 291h1v3h-1zM264 291h1v3h-1zM272 291h1v3h-1zM280 291h1v3h-1zM288 291h1v3h-1zM296 291h1v3h-1zM304 291h1v3h-1zM312 291h1v3h-1zM320 291h1v3h-1zM328 291h1v3h-1zM336 291h1v3h-1zM344 291h1v3h-1zM352 291h1v3h-1zM360 291h1v3h-1zM368 291h1v3h-1zM376 291h1v3h-1zM384 291h1v3h-1zM392 291h1v3h-1zM240 297h1v3h-1zM248 297h1v3h-1zM256 297h1v3h-1zM264 297h1v3h-1zM272 297h1v3h-1zM280 297h1v3h-1zM288 297h1v3h-1zM296 297h1v3h-1zM304 297h1v3h-1zM312 297h1v3h-1zM320 297h1v3h-1zM328 297h1v3h-1zM336 297h1v3h-1zM344 297h1v3h-1zM352 297h1v3h-1zM360 297h1v3h-1zM368 297h1v3h-1zM376 297h1v3h-1zM384 297h1v3h-1zM392 297h1v3h-1zM240 303h1v3h-1zM248 303h1v3h-1zM256 303h1v3h-1zM264 303h1v3h-1zM272 303h1v3h-1zM280 303h1v3h-1zM288 303h1v3h-1zM296 303h1v3h-1zM304 303h1v3h-1zM312 303h1v3h-1zM320 303h1v3h-1zM328 303h1v3h-1zM336 303h1v3h-1zM344 303h1v3h-1zM352 303h1v3h-1zM360 303h1v3h-1zM368 303h1v3h-1zM376 303h1v3h-1zM384 303h1v3h-1zM392 303h1v3h-1zM240 309h1v3h-1zM248 309h1v3h-1zM256 309h1v3h-1zM264 309h1v3h-1zM272 309h1v3h-1zM280 309h1v3h-1zM288 309h1v3h-1zM296 309h1v3h-1zM304 309h1v3h-1zM312 309h1v3h-1zM320 309h1v3h-1zM328 309h1v3h-1zM336 309h1v3h-1zM344 309h1v3h-1zM352 309h1v3h-1zM360 309h1v3h-1zM368 309h1v3h-1zM376 309h1v3h-1zM384 309h1v3h-1zM392 309h1v3h-1zM248 315h1v3h-1zM256 315h1v3h-1zM264 315h1v3h-1zM272 315h1v3h-1zM280 315h1v3h-1zM288 315h1v3h-1zM296 315h1v3h-1zM304 315h1v3h-1zM312 315h1v3h-1zM320 315h1v3h-1zM328 315h1v3h-1zM336 315h1v3h-1zM344 315h1v3h-1zM352 315h1v3h-1zM360 315h1v3h-1zM368 315h1v3h-1zM376 315h1v3h-1zM384 315h1v3h-1zM248 321h1v3h-1zM256 321h1v3h-1zM264 321h1v3h-1zM272 321h1v3h-1zM280 321h1v3h-1zM288 321h1v3h-1zM296 321h1v3h-1zM304 321h1v3h-1zM312 321h1v3h-1zM320 321h1v3h-1zM328 321h1v3h-1zM336 321h1v3h-1zM344 321h1v3h-1zM352 321h1v3h-1zM360 321h1v3h-1zM368 321h1v3h-1zM376 321h1v3h-1zM384 321h1v3h-1zM248 327h1v3h-1zM256 327h1v3h-1zM264 327h1v3h-1zM272 327h1v3h-1zM280 327h1v3h-1zM288 327h1v3h-1zM296 327h1v3h-1zM304 327h1v3h-1zM312 327h1v3h-1zM320 327h1v3h-1zM328 327h1v3h-1zM336 327h1v3h-1zM344 327h1v3h-1zM352 327h1v3h-1zM360 327h1v3h-1zM368 327h1v3h-1zM248 333h1v3h-1zM256 333h1v3h-1zM264 333h1v3h-1zM272 333h1v3h-1zM280 333h1v3h-1zM288 333h1v3h-1zM296 333h1v3h-1zM304 333h1v3h-1zM312 333h1v3h-1zM320 333h1v3h-1zM328 333h1v3h-1zM336 333h1v3h-1zM344 333h1v3h-1zM352 333h1v3h-1zM360 333h1v3h-1zM368 333h1v3h-1zM248 339h1v3h-1zM256 339h1v3h-1zM264 339h1v3h-1zM272 339h1v3h-1zM280 339h1v3h-1zM288 339h1v3h-1zM296 339h1v3h-1zM304 339h1v3h-1zM312 339h1v3h-1zM320 339h1v3h-1zM328 339h1v3h-1zM336 339h1v3h-1zM344 339h1v3h-1zM352 339h1v3h-1zM360 339h1v3h-1zM368 339h1v3h-1zM264 345h1v3h-1zM272 345h1v3h-1zM280 345h1v3h-1zM288 345h1v3h-1zM296 345h1v3h-1zM304 345h1v3h-1zM312 345h1v3h-1zM320 345h1v3h-1zM328 345h1v3h-1zM336 345h1v3h-1zM344 345h1v3h-1zM352 345h1v3h-1zM360 345h1v3h-1zM272 351h1v3h-1zM280 351h1v3h-1zM288 351h1v3h-1zM296 351h1v3h-1zM304 351h1v3h-1zM312 351h1v3h-1zM320 351h1v3h-1zM328 351h1v3h-1zM336 351h1v3h-1zM344 351h1v3h-1zM352 351h1v3h-1zM360 351h1v3h-1zM280 357h1v3h-1zM288 357h1v3h-1zM296 357h1v3h-1zM304 357h1v3h-1zM312 357h1v3h-1zM320 357h1v3h-1zM328 357h1v3h-1zM336 357h1v3h-1zM344 357h1v3h-1zM352 357h1v3h-1zM280 363h1v3h-1zM288 363h1v3h-1zM296 363h1v3h-1zM304 363h1v3h-1zM312 363h1v3h-1zM320 363h1v3h-1zM328 363h1v3h-1zM336 363h1v3h-1zM344 363h1v3h-1zM352 363h1v3h-1zM296 369h1v3h-1zM304 369h1v3h-1zM312 369h1v3h-1zM320 369h1v3h-1zM328 369h1v3h-1zM296 375h1v3h-1zM312 375h1v3h-1zM320 375h1v3h-1zM328 375h1v3h-1zM312 381h1v3h-1zM88 0h1v3h-1zM96 29h1v3h-1zM80 2h1v2h-1zM104 88h1v1h-1zM112 120h1v2h-1zM136 141h1v1h-1zM120 135h1v3h-1zM128 135h1v3h-1zM144 148h1v3h-1zM152 164h1v2h-1zM160 164h1v3h-1zM176 191h1v1h-1zM168 172h1v3h-1zM184 191h1v1h-1zM192 186h1v3h-1zM200 194h1v1h-1zM208 202h1v1h-1zM216 208h1v3h-1zM224 222h1v3h-1zM240 315h1v3h-1zM264 351h1v2h-1zM288 369h1v1h-1zM312 387h1v1h-1zM336 369h1v2h-1zM360 357h1v3h-1zM384 327h1v1h-1zM408 285h1v3h-1zM432 279h1v3h-1zM232 285h1v3h-1zM248 345h1v1h-1zM256 345h1v3h-1zM272 357h1v3h-1zM280 369h1v1h-1zM296 381h1v2h-1zM304 375h1v2h-1zM320 381h1v3h-1zM328 381h1v3h-1zM344 369h1v2h-1zM352 369h1v3h-1zM368 345h1v1h-1zM376 327h1v1h-1zM392 315h1v3h-1zM400 291h1v3h-1zM416 285h1v1h-1zM424 279h1v3h-1zM440 269h1v1h-1zM448 264h1v3h-1z"/><path fill="rgb(0,128,0)" d="M15 108h2v3h-2zM225 110h1v1h-1zM434 148h1v3h-1zM22 187h2v3h-2zM317 238h2v1h-2zM446 237h1v2h-1zM188 77h3v1h-3zM186 76h2v1h-2zM184 75h2v1h-2zM137 45h3v1h-3zM99 0h1v5h-1zM100 5h1v6h-1zM101 11h1v3h-1zM103 21h1v5h-1zM104 26h1v2h-1zM104 28h2v1h-2zM106 29h4v1h-4zM110 30h3v1h-3zM113 31h1v1h-1zM116 38h1v1h-1zM117 39h1v2h-1zM118 41h1v2h-1zM119 43h1v2h-1zM120 45h11v1h-11zM137 370h3v1h-3zM140 46h5v1h-5zM145 47h1v2h-1zM146 49h1v2h-1zM147 51h1v2h-1zM148 53h1v2h-1zM149 55h1v2h-1zM153 62h8v1h-8zM161 63h1v1h-1zM162 64h1v1h-1zM163 65h1v1h-1zM164 66h1v1h-1zM165 67h1v1h-1zM166 68h1v1h-1zM167 69h1v1h-1zM168 70h3v1h-3zM177 71h2v1h-2zM179 72h1v1h-1zM180 73h2v1h-2zM182 74h2v1h-2zM184 344h2v1h-2zM186 339h2v2h-2zM188 333h3v1h-3zM191 78h3v1h-3zM194 79h1v1h-1zM201 81h1v1h-1zM203 83h1v1h-1zM204 84h1v1h-1zM205 85h1v1h-1zM206 86h1v1h-1zM0 87h9v2h-9zM207 87h1v1h-1zM208 88h9v1h-9zM7 89h3v1h-3zM216 89h1v1h-1zM8 90h2v1h-2zM217 90h1v1h-1zM8 91h3v1h-3zM9 92h2v2h-2zM9 94h3v1h-3zM10 95h2v2h-2zM10 97h3v1h-3zM220 97h1v3h-1zM11 98h2v1h-2zM11 99h3v1h-3zM12 100h2v2h-2zM221 100h1v2h-1zM12 102h3v1h-3zM222 102h1v3h-1zM13 103h2v2h-2zM13 105h3v1h-3zM223 105h1v2h-1zM14 106h2v1h-2zM14 107h3v1h-3zM224 107h1v3h-1zM15 112h2v2h-2zM225 112h1v2h-1zM15 114h3v1h-3zM226 114h1v1h-1zM16 115h2v11h-2zM228 121h1v3h-1zM229 124h1v3h-1zM16 126h3v1h-3zM17 127h2v11h-2zM230 127h1v3h-1zM484 129h5v1h-5zM231 130h1v4h-1zM479 130h11v1h-11zM478 131h7v1h-7zM488 131h4v1h-4zM477 132h3v1h-3zM489 132h4v1h-4zM476 133h3v1h-3zM491 133h3v1h-3zM232 134h1v1h-1zM475 134h3v1h-3zM492 134h4v1h-4zM232 135h4v1h-4zM242 135h18v1h-18zM266 135h18v1h-18zM290 135h18v1h-18zM314 135h18v1h-18zM338 135h18v1h-18zM362 135h18v1h-18zM386 135h18v1h-18zM410 135h18v1h-18zM474 135h3v1h-3zM493 135h84v1h-84zM473 136h3v1h-3zM495 136h82v1h-82zM432 137h1v3h-1zM472 137h3v1h-3zM17 138h3v1h-3zM471 138h3v1h-3zM18 139h2v11h-2zM470 139h3v1h-3zM433 140h1v8h-1zM469 140h3v1h-3zM469 141h2v1h-2zM468 142h3v1h-3zM467 143h3v1h-3zM466 144h3v1h-3zM465 145h3v1h-3zM465 146h2v1h-2zM464 147h3v1h-3zM434 152h1v3h-1zM463 148h3v1h-3zM462 149h3v1h-3zM18 150h3v1h-3zM462 150h2v1h-2zM19 152h2v10h-2zM460 152h3v1h-3zM459 153h3v1h-3zM459 154h2v1h-2zM458 155h3v1h-3zM457 156h3v1h-3zM456 157h3v1h-3zM456 158h2v1h-2zM423 159h1v1h-1zM425 159h7v2h-7zM433 159h25v1h-25zM422 160h2v1h-2zM433 160h24v1h-24zM421 161h3v1h-3zM435 161h1v4h-1zM19 162h3v1h-3zM420 162h3v1h-3zM20 163h2v11h-2zM418 163h4v1h-4zM417 164h4v1h-4zM417 165h2v1h-2zM436 165h1v9h-1zM768 165h1v1h-1zM415 166h1v1h-1zM417 166h1v1h-1zM767 166h1v1h-1zM414 167h2v2h-2zM766 167h1v1h-1zM765 168h1v1h-1zM413 169h3v1h-3zM764 169h1v1h-1zM413 170h2v1h-2zM412 171h3v1h-3zM412 172h2v1h-2zM411 173h3v1h-3zM20 174h3v1h-3zM411 174h2v1h-2zM437 174h1v5h-1zM757 174h2v1h-2zM21 175h2v11h-2zM410 175h3v1h-3zM752 175h5v1h-5zM410 176h2v1h-2zM751 176h1v2h-1zM409 177h3v1h-3zM409 178h2v2h-2zM750 178h1v1h-1zM749 179h1v2h-1zM408 180h2v1h-2zM407 181h3v1h-3zM748 181h1v1h-1zM406 182h3v1h-3zM747 182h1v2h-1zM405 183h3v1h-3zM404 184h3v1h-3zM746 184h1v1h-1zM403 185h3v1h-3zM438 185h1v5h-1zM745 185h1v2h-1zM21 186h3v1h-3zM403 186h2v1h-2zM22 191h2v7h-2zM402 187h3v1h-3zM401 188h3v1h-3zM401 189h2v1h-2zM366 191h2v1h-2zM369 191h7v1h-7zM377 191h7v1h-7zM385 191h7v1h-7zM393 191h7v1h-7zM439 191h1v8h-1zM364 192h4v1h-4zM363 193h4v1h-4zM740 193h1v2h-1zM362 194h3v1h-3zM361 195h3v1h-3zM739 195h1v1h-1zM351 196h1v1h-1zM353 196h7v2h-7zM361 196h2v1h-2zM738 196h1v2h-1zM350 197h2v1h-2zM22 198h3v1h-3zM349 198h3v1h-3zM737 198h1v2h-1zM23 199h2v9h-2zM348 199h3v1h-3zM440 199h1v4h-1zM347 200h3v1h-3zM736 200h1v2h-1zM346 201h3v1h-3zM345 202h3v1h-3zM735 202h1v2h-1zM345 203h2v1h-2zM342 204h4v1h-4zM734 204h1v2h-1zM338 205h7v1h-7zM335 206h8v1h-8zM733 206h1v2h-1zM334 207h2v2h-2zM337 207h2v1h-2zM23 208h3v1h-3zM732 208h1v2h-1zM24 209h2v5h-2zM333 209h3v1h-3zM441 209h1v4h-1zM333 210h2v1h-2zM731 210h1v1h-1zM332 211h3v1h-3zM332 212h2v1h-2zM331 213h3v1h-3zM442 213h1v6h-1zM24 214h3v1h-3zM330 214h3v1h-3zM25 215h2v5h-2zM330 215h2v1h-2zM329 216h3v1h-3zM720 216h8v1h-8zM329 217h2v1h-2zM719 217h1v1h-1zM328 218h3v1h-3zM718 218h1v1h-1zM329 219h1v2h-1zM443 219h1v6h-1zM717 219h1v1h-1zM25 220h3v1h-3zM327 220h1v1h-1zM715 220h2v1h-2zM26 221h2v5h-2zM326 221h2v2h-2zM714 221h1v1h-1zM713 222h1v1h-1zM325 223h3v1h-3zM712 223h1v1h-1zM324 224h3v1h-3zM711 224h1v1h-1zM323 225h3v1h-3zM444 225h1v2h-1zM710 225h1v1h-1zM26 226h3v1h-3zM323 226h2v1h-2zM27 227h2v5h-2zM322 227h3v1h-3zM321 228h3v1h-3zM320 229h3v1h-3zM320 230h2v1h-2zM319 231h1v2h-1zM321 231h1v1h-1zM27 232h3v1h-3zM704 232h1v1h-1zM28 233h2v5h-2zM318 233h2v4h-2zM445 233h1v4h-1zM703 233h1v1h-1zM702 234h1v1h-1zM701 235h1v1h-1zM700 236h1v1h-1zM317 237h3v1h-3zM446 240h1v3h-1zM699 237h1v1h-1zM28 238h3v1h-3zM317 240h2v1h-2zM698 238h1v1h-1zM29 240h2v4h-2zM696 240h1v1h-1zM316 241h3v1h-3zM694 241h2v1h-2zM316 242h2v3h-2zM693 242h1v1h-1zM447 243h1v6h-1zM691 243h2v1h-2zM29 244h3v1h-3zM689 244h2v1h-2zM30 245h2v5h-2zM315 245h3v1h-3zM687 245h2v1h-2zM315 246h2v2h-2zM671 246h10v1h-10zM669 247h2v1h-2zM314 248h3v1h-3zM666 248h3v1h-3zM314 249h2v3h-2zM448 249h1v2h-1zM648 249h9v1h-9zM663 249h3v1h-3zM30 250h3v1h-3zM646 250h2v1h-2zM31 251h2v6h-2zM645 251h1v1h-1zM313 252h3v1h-3zM643 252h2v1h-2zM313 253h2v4h-2zM641 253h2v1h-2zM639 254h2v1h-2zM632 255h1v1h-1zM630 256h2v1h-2zM31 257h3v1h-3zM313 257h1v1h-1zM449 257h1v5h-1zM629 257h1v1h-1zM32 258h2v5h-2zM312 258h2v2h-2zM627 258h2v1h-2zM625 259h2v1h-2zM311 260h3v1h-3zM624 260h1v2h-1zM303 261h1v2h-1zM305 261h7v2h-7zM450 262h1v7h-1zM623 262h1v2h-1zM32 263h3v1h-3zM302 263h2v3h-2zM33 264h2v5h-2zM622 264h1v2h-1zM301 266h3v1h-3zM621 266h1v2h-1zM301 267h2v2h-2zM620 268h1v2h-1zM33 269h3v1h-3zM300 269h3v1h-3zM451 269h1v6h-1zM34 270h2v6h-2zM300 270h2v2h-2zM299 272h3v1h-3zM299 273h2v2h-2zM298 275h3v1h-3zM34 276h3v1h-3zM298 276h2v2h-2zM616 276h1v2h-1zM35 277h2v5h-2zM297 278h3v1h-3zM615 278h1v1h-1zM297 279h2v3h-2zM614 279h1v1h-1zM613 280h1v1h-1zM452 281h1v1h-1zM612 281h1v2h-1zM35 282h3v1h-3zM296 282h2v2h-2zM453 282h1v7h-1zM36 283h2v6h-2zM611 283h1v1h-1zM295 284h3v1h-3zM610 284h1v1h-1zM295 285h1v1h-1zM609 285h1v1h-1zM294 286h2v1h-2zM529 286h18v1h-18zM553 286h18v1h-18zM577 286h18v1h-18zM601 286h8v1h-8zM293 287h3v1h-3zM293 288h2v1h-2zM36 289h3v1h-3zM292 289h3v1h-3zM454 289h1v7h-1zM37 290h2v5h-2zM291 290h3v1h-3zM290 291h3v1h-3zM289 292h3v1h-3zM525 292h1v1h-1zM289 293h2v1h-2zM524 293h1v1h-1zM288 294h3v1h-3zM523 294h1v2h-1zM37 295h3v1h-3zM287 295h3v1h-3zM38 296h2v5h-2zM287 296h2v1h-2zM455 296h1v3h-1zM522 296h1v2h-1zM286 297h2v2h-2zM521 298h1v2h-1zM285 299h3v1h-3zM285 300h2v1h-2zM517 300h4v1h-4zM38 301h3v1h-3zM284 301h3v1h-3zM512 301h5v1h-5zM39 302h2v2h-2zM284 302h2v1h-2zM512 302h1v1h-1zM283 303h3v1h-3zM39 304h19v1h-19zM283 304h2v1h-2zM39 305h23v1h-23zM282 305h3v1h-3zM456 305h18v1h-18zM57 306h8v1h-8zM282 306h2v1h-2zM61 307h4v1h-4zM281 307h3v1h-3zM480 307h1v2h-1zM63 308h3v1h-3zM281 308h2v2h-2zM64 309h2v1h-2zM481 309h1v2h-1zM508 309h1v2h-1zM64 310h3v1h-3zM281 310h1v2h-1zM65 311h2v1h-2zM279 311h1v1h-1zM482 311h1v2h-1zM507 311h1v2h-1zM65 312h3v1h-3zM278 312h3v1h-3zM66 313h2v1h-2zM276 313h4v1h-4zM483 313h1v2h-1zM506 313h1v2h-1zM66 314h3v1h-3zM275 314h4v1h-4zM67 315h2v1h-2zM274 315h3v1h-3zM484 315h1v2h-1zM505 315h1v2h-1zM67 316h3v1h-3zM273 316h3v1h-3zM68 317h2v1h-2zM254 317h2v1h-2zM257 317h7v1h-7zM265 317h7v1h-7zM273 317h2v1h-2zM485 317h1v2h-1zM501 317h4v1h-4zM68 318h3v1h-3zM252 318h21v1h-21zM496 318h5v1h-5zM69 319h2v1h-2zM249 319h6v1h-6zM486 319h1v2h-1zM495 319h1v1h-1zM69 320h3v1h-3zM231 320h9v1h-9zM241 320h12v1h-12zM70 321h2v1h-2zM230 321h10v1h-10zM241 321h7v1h-7zM249 321h1v1h-1zM487 321h1v2h-1zM70 322h3v1h-3zM229 322h3v1h-3zM71 323h18v1h-18zM228 323h3v1h-3zM488 323h1v2h-1zM71 324h19v1h-19zM226 324h4v1h-4zM88 325h2v1h-2zM225 325h4v1h-4zM88 326h3v1h-3zM224 326h3v1h-3zM89 327h3v1h-3zM191 327h35v1h-35zM90 328h3v1h-3zM191 328h34v1h-34zM91 329h2v1h-2zM190 329h3v1h-3zM91 330h3v1h-3zM190 330h2v1h-2zM92 331h3v1h-3zM189 331h3v1h-3zM93 332h3v1h-3zM189 332h2v1h-2zM94 333h2v1h-2zM94 334h3v1h-3zM188 334h2v2h-2zM95 335h2v1h-2zM95 336h3v1h-3zM187 336h3v1h-3zM96 337h2v3h-2zM187 337h2v1h-2zM186 338h3v1h-3zM96 340h3v1h-3zM97 341h2v2h-2zM185 341h3v1h-3zM185 342h2v1h-2zM97 343h3v1h-3zM184 343h3v1h-3zM98 344h2v2h-2zM183 345h3v1h-3zM98 346h3v1h-3zM167 346h18v1h-18zM99 347h2v3h-2zM166 347h19v1h-19zM166 348h2v1h-2zM165 349h3v1h-3zM99 350h3v1h-3zM165 350h2v1h-2zM100 351h2v2h-2zM164 351h3v1h-3zM164 352h2v1h-2zM100 353h3v1h-3zM163 353h3v1h-3zM101 354h2v2h-2zM163 354h2v1h-2zM162 355h3v1h-3zM101 356h3v1h-3zM162 356h2v1h-2zM102 357h2v3h-2zM161 357h3v1h-3zM161 358h2v1h-2zM160 359h3v1h-3zM102 360h3v1h-3zM160 360h2v1h-2zM103 361h18v1h-18zM159 361h3v1h-3zM103 362h20v1h-20zM158 362h3v1h-3zM120 363h4v1h-4zM158 363h2v1h-2zM122 364h4v1h-4zM157 364h3v1h-3zM123 365h5v1h-5zM157 365h2v1h-2zM125 366h12v1h-12zM156 366h3v1h-3zM127 367h11v1h-11zM155 367h3v1h-3zM136 368h2v1h-2zM155 368h2v1h-2zM136 369h3v1h-3zM154 369h3v1h-3zM153 370h3v1h-3zM138 371h3v1h-3zM153 371h2v1h-2zM139 372h2v1h-2zM152 372h3v1h-3zM139 373h3v1h-3zM152 373h2v1h-2zM140 374h3v1h-3zM150 374h4v1h-4zM141 375h3v1h-3zM148 375h5v1h-5zM142 376h2v1h-2zM145 376h6v1h-6zM142 377h7v1h-7zM143 378h3v1h-3z"/><path fill="rgb(112,128,144)" d="M565 0h10v1h-10zM566 1h8v1h-8zM567 2h6v1h-6zM568 3h4v1h-4zM569 4h2v1h-2zM0 492h1v1h-1zM0 493h2v1h-2zM0 494h3v1h-3zM0 495h4v1h-4zM0 496h5v1h-5z"/><path fill="rgb(0,0,0)" d="M772 0h1v32h-1zM422 44h5v1h-5zM424 24h1v20h-1zM772 32h3v1h-3zM772 33h1v32h-1zM430 62h5v1h-5zM432 42h1v20h-1zM446 73h1v9h-1zM450 73h1v9h-1zM566 74h1v8h-1zM570 74h1v8h-1zM576 80h1v2h-1zM566 73h5v1h-5zM446 83h1v1h-1zM568 59h1v14h-1zM450 83h1v3h-1zM574 86h5v1h-5zM576 83h1v3h-1zM772 65h3v1h-3zM772 66h1v32h-1zM326 99h1v12h-1zM330 99h1v12h-1zM374 105h1v6h-1zM378 105h1v6h-1zM390 110h1v1h-1zM394 110h1v1h-1zM446 86h1v25h-1zM450 88h1v23h-1zM390 109h5v1h-5zM392 106h1v3h-1zM374 104h5v1h-5zM446 72h5v1h-5zM448 70h1v2h-1zM310 119h5v1h-5zM312 116h1v3h-1zM772 98h3v1h-3zM772 99h1v32h-1zM392 117h1v15h-1zM326 112h1v23h-1zM330 112h1v23h-1zM342 126h1v9h-1zM346 126h1v9h-1zM312 124h1v11h-1zM392 134h1v1h-1zM328 87h1v11h-1zM392 138h1v3h-1zM466 126h1v18h-1zM344 152h1v1h-1zM344 156h1v3h-1zM772 131h3v1h-3zM772 132h1v32h-1zM344 164h1v1h-1zM470 150h5v1h-5zM472 144h1v6h-1zM198 176h1v14h-1zM202 176h1v14h-1zM230 173h1v17h-1zM234 173h1v17h-1zM478 183h1v7h-1zM482 183h1v7h-1zM772 164h3v1h-3zM202 191h1v6h-1zM280 192h1v3h-1zM772 165h1v32h-1zM280 198h1v1h-1zM232 168h1v3h-1zM478 182h5v1h-5zM480 172h1v10h-1zM232 205h1v2h-1zM280 204h1v3h-1zM280 210h1v3h-1zM198 175h5v1h-5zM502 214h5v1h-5zM238 204h1v15h-1zM504 196h1v18h-1zM280 216h1v3h-1zM242 204h1v16h-1zM280 222h1v3h-1zM486 207h5v1h-5zM488 203h1v4h-1zM772 197h3v1h-3zM772 198h1v32h-1zM238 203h2v1h-2zM241 203h2v1h-2zM240 200h1v1h-1zM280 228h1v1h-1zM514 221h1v13h-1zM240 234h1v3h-1zM246 230h1v9h-1zM250 230h1v9h-1zM240 240h1v3h-1zM240 246h1v3h-1zM772 230h3v1h-3zM772 231h1v32h-1zM246 229h5v1h-5zM248 271h1v2h-1zM248 276h1v3h-1zM772 263h3v1h-3zM772 264h1v32h-1zM134 297h5v1h-5zM136 288h1v9h-1zM772 296h3v1h-3zM772 297h1v32h-1zM16 346h1v3h-1zM772 329h3v1h-3zM104 352h1v8h-1zM772 330h1v32h-1zM6 354h5v1h-5zM8 347h1v7h-1zM102 369h5v1h-5zM104 363h1v6h-1zM772 362h3v1h-3zM772 363h1v32h-1zM14 369h5v1h-5zM16 357h1v12h-1zM772 395h3v1h-3zM772 396h1v32h-1zM46 435h5v1h-5zM48 429h1v6h-1zM54 452h5v1h-5zM56 438h1v14h-1zM772 428h3v1h-3zM772 429h1v32h-1zM22 423h5v1h-5zM24 414h1v9h-1zM62 456h5v1h-5zM64 447h1v9h-1zM772 461h3v1h-3zM772 462h1v32h-1zM64 468h1v1h-1zM448 122h1v10h-1zM512 207h1v13h-1zM576 92h1v3h-1zM772 495h1v2h-1zM3 6h8v1h-8zM4 7h6v1h-6zM5 8h4v1h-4zM6 9h2v1h-2zM424 61h1v6h-1zM772 494h3v1h-3zM432 76h1v2h-1zM422 60h5v1h-5zM422 45h1v15h-1zM426 45h1v15h-1zM568 86h1v8h-1zM430 75h5v1h-5zM430 63h1v12h-1zM434 63h1v12h-1zM448 498h1v3h-1zM446 121h5v1h-5zM446 112h1v9h-1zM450 112h1v9h-1zM566 85h5v1h-5zM566 83h1v2h-1zM570 83h1v2h-1zM576 498h1v3h-1zM574 91h5v1h-5zM328 144h1v3h-1zM574 87h1v4h-1zM578 87h1v4h-1zM774 87h40v10h-40zM376 90h1v14h-1zM326 98h5v1h-5zM326 136h1v5h-1zM330 136h1v5h-1zM374 118h5v1h-5zM374 112h1v6h-1zM378 112h1v6h-1zM392 144h1v3h-1zM390 116h5v1h-5zM390 112h1v4h-1zM394 112h1v4h-1zM464 112h1v13h-1zM312 138h1v3h-1zM310 123h5v1h-5zM310 120h1v3h-1zM314 120h1v3h-1zM342 125h5v1h-5zM462 125h5v1h-5zM342 136h1v15h-1zM346 136h1v15h-1zM462 126h1v23h-1zM466 148h1v3h-1zM326 141h2v1h-2zM329 141h2v1h-2zM472 183h1v4h-1zM470 182h5v1h-5zM344 168h1v2h-1zM470 152h1v30h-1zM474 152h1v30h-1zM232 210h1v2h-1zM230 172h2v1h-2zM233 172h2v1h-2zM480 208h1v4h-1zM230 191h1v13h-1zM234 191h1v13h-1zM198 220h5v1h-5zM198 191h1v29h-1zM202 198h1v22h-1zM478 207h5v1h-5zM478 191h1v16h-1zM482 191h1v16h-1zM280 234h1v3h-1zM504 221h1v4h-1zM278 199h5v2h-5zM240 252h1v3h-1zM278 201h2v1h-2zM281 201h2v1h-2zM238 232h2v1h-2zM241 232h2v1h-2zM488 230h1v6h-1zM230 204h5v1h-5zM238 221h1v11h-1zM242 223h1v9h-1zM486 229h5v1h-5zM512 498h1v3h-1zM486 208h1v21h-1zM490 208h1v21h-1zM502 220h5v1h-5zM502 215h1v5h-1zM506 215h1v5h-1zM510 220h5v1h-5zM200 221h1v5h-1zM510 221h1v17h-1zM514 235h1v2h-1zM246 270h5v1h-5zM246 240h1v30h-1zM250 240h1v30h-1zM512 237h3v1h-3zM248 282h1v1h-1zM136 323h1v5h-1zM134 322h5v1h-5zM134 298h1v24h-1zM138 298h1v24h-1zM16 420h1v12h-1zM8 370h1v11h-1zM104 392h1v6h-1zM6 369h5v1h-5zM6 355h1v14h-1zM10 355h1v14h-1zM14 419h5v1h-5zM102 391h5v1h-5zM14 370h1v49h-1zM18 370h1v49h-1zM102 370h1v21h-1zM106 370h1v21h-1zM24 467h1v19h-1zM22 466h5v1h-5zM22 424h1v42h-1zM26 424h1v42h-1zM48 455h1v20h-1zM46 454h5v1h-5zM46 436h1v18h-1zM50 436h1v18h-1zM56 457h1v7h-1zM64 498h1v3h-1zM54 456h5v1h-5zM54 453h1v3h-1zM58 453h1v3h-1zM62 467h5v1h-5zM62 457h1v10h-1zM66 457h1v10h-1zM0 497h773v1h-773zM0 498h1v3h-1zM128 498h1v3h-1zM192 498h1v3h-1zM256 498h1v3h-1zM320 498h1v3h-1zM384 498h1v3h-1z"/><path fill="rgb(0,0,255)" d="M414 46h5v1h-5zM416 36h1v10h-1zM438 70h5v1h-5zM440 67h1v3h-1zM406 73h1v9h-1zM410 73h1v9h-1zM440 77h1v5h-1zM552 78h1v4h-1zM558 74h1v8h-1zM562 74h1v8h-1zM440 83h1v1h-1zM558 73h5v1h-5zM318 99h1v12h-1zM322 99h1v12h-1zM366 106h1v5h-1zM370 106h1v5h-1zM408 66h1v6h-1zM440 86h1v25h-1zM550 89h1v22h-1zM554 89h1v22h-1zM382 112h5v1h-5zM400 100h1v11h-1zM384 105h1v6h-1zM456 114h1v5h-1zM550 88h5v1h-5zM318 98h5v1h-5zM552 83h1v5h-1zM320 87h1v11h-1zM366 105h5v1h-5zM368 94h1v11h-1zM302 119h1v16h-1zM306 119h1v16h-1zM338 124h1v11h-1zM362 125h1v10h-1zM528 122h1v13h-1zM542 121h5v1h-5zM552 123h1v12h-1zM352 120h1v15h-1zM334 123h5v1h-5zM336 112h1v11h-1zM534 137h5v1h-5zM536 129h1v6h-1zM354 142h1v5h-1zM336 144h1v3h-1zM360 144h1v1h-1zM288 150h1v1h-1zM302 136h1v15h-1zM306 136h1v15h-1zM336 150h1v1h-1zM352 138h1v3h-1zM360 150h1v1h-1zM456 121h1v30h-1zM526 147h1v4h-1zM530 147h1v4h-1zM536 145h1v6h-1zM288 152h1v1h-1zM336 152h1v1h-1zM352 152h1v1h-1zM360 152h1v1h-1zM288 156h1v3h-1zM302 118h5v1h-5zM336 156h1v3h-1zM360 156h1v3h-1zM304 116h1v2h-1zM288 162h1v3h-1zM296 163h1v2h-1zM304 163h1v2h-1zM360 162h1v3h-1zM526 146h5v1h-5zM528 137h1v9h-1zM288 168h1v3h-1zM360 168h1v3h-1zM192 171h1v3h-1zM288 174h1v3h-1zM518 171h1v3h-1zM294 169h5v1h-5zM522 171h1v9h-1zM272 182h1v1h-1zM296 168h1v1h-1zM190 179h1v11h-1zM194 179h1v11h-1zM222 175h1v15h-1zM226 175h1v15h-1zM286 182h1v8h-1zM290 182h1v8h-1zM518 180h1v10h-1zM522 182h1v8h-1zM272 186h1v3h-1zM296 186h1v3h-1zM190 191h1v1h-1zM216 187h1v3h-1zM194 191h1v2h-1zM272 192h1v3h-1zM296 192h1v3h-1zM216 193h1v3h-1zM288 180h1v1h-1zM296 198h1v3h-1zM214 206h1v3h-1zM296 204h1v3h-1zM214 205h5v1h-5zM216 199h1v3h-1zM206 218h5v1h-5zM208 211h1v7h-1zM190 178h5v1h-5zM494 218h5v1h-5zM496 212h1v6h-1zM270 200h1v30h-1zM274 200h1v30h-1zM182 225h5v1h-5zM518 191h1v43h-1zM184 208h1v17h-1zM518 170h5v1h-5zM520 161h1v9h-1zM160 238h1v1h-1zM168 210h1v29h-1zM208 221h1v18h-1zM264 234h1v3h-1zM270 232h1v7h-1zM274 232h1v7h-1zM496 230h1v9h-1zM264 240h1v3h-1zM270 199h5v1h-5zM272 198h1v1h-1zM176 229h1v10h-1zM272 248h1v1h-1zM264 246h1v2h-1zM166 248h5v1h-5zM264 258h1v3h-1zM254 261h2v1h-2zM257 261h2v1h-2zM256 260h1v1h-1zM264 264h1v3h-1zM158 260h5v1h-5zM160 240h1v20h-1zM256 270h1v3h-1zM256 276h1v3h-1zM256 282h1v3h-1zM150 273h5v1h-5zM152 263h1v10h-1zM256 288h1v3h-1zM142 296h5v1h-5zM126 297h5v1h-5zM112 348h1v13h-1zM118 353h1v8h-1zM122 353h1v9h-1zM118 352h5v1h-5zM120 337h1v15h-1zM0 357h3v1h-3zM0 344h1v13h-1zM110 368h5v1h-5zM112 363h1v5h-1zM80 398h1v16h-1zM98 371h1v46h-1zM88 414h1v10h-1zM38 434h5v1h-5zM40 420h1v14h-1zM78 432h5v1h-5zM80 420h1v12h-1zM30 449h5v1h-5zM32 424h1v25h-1zM70 449h5v1h-5zM416 73h1v5h-1zM414 72h5v1h-5zM414 47h1v25h-1zM418 47h1v25h-1zM560 65h1v8h-1zM408 112h1v5h-1zM440 112h1v1h-1zM438 76h5v1h-5zM438 71h1v5h-1zM442 71h1v5h-1zM406 72h5v1h-5zM406 83h1v28h-1zM410 83h1v28h-1zM558 89h5v1h-5zM558 83h1v6h-1zM562 83h1v6h-1zM552 137h1v9h-1zM320 124h1v11h-1zM550 122h5v1h-5zM550 112h1v10h-1zM554 112h1v10h-1zM368 125h1v4h-1zM318 123h5v1h-5zM318 112h1v11h-1zM322 112h1v11h-1zM400 115h1v15h-1zM366 124h5v1h-5zM384 116h1v11h-1zM366 112h1v12h-1zM370 112h1v12h-1zM336 162h1v1h-1zM382 115h5v1h-5zM398 112h1v2h-1zM402 112h1v2h-1zM382 113h1v2h-1zM386 113h1v2h-1zM398 114h5v1h-5zM456 152h1v5h-1zM304 168h1v3h-1zM544 117h1v4h-1zM302 162h5v1h-5zM302 152h1v10h-1zM306 152h1v10h-1zM454 119h5v2h-5zM352 156h1v3h-1zM542 137h5v1h-5zM528 171h1v3h-1zM542 122h1v13h-1zM546 122h1v13h-1zM334 140h5v1h-5zM334 124h1v16h-1zM338 136h1v4h-1zM358 124h5v1h-5zM358 125h1v18h-1zM362 136h1v5h-1zM536 152h1v1h-1zM534 144h5v1h-5zM534 138h1v6h-1zM538 138h1v6h-1zM350 141h2v1h-2zM353 141h2v1h-2zM350 142h1v6h-1zM354 149h1v1h-1zM358 143h2v1h-2zM360 174h1v3h-1zM526 170h5v1h-5zM526 152h1v18h-1zM530 152h1v18h-1zM288 204h1v1h-1zM352 150h3v1h-3zM520 238h1v1h-1zM296 210h1v1h-1zM294 182h5v1h-5zM294 170h1v12h-1zM298 170h1v12h-1zM518 237h5v1h-5zM192 177h1v1h-1zM224 171h1v3h-1zM518 235h1v2h-1zM522 191h1v46h-1zM222 174h2v1h-2zM225 174h2v1h-2zM222 191h1v11h-1zM226 191h1v11h-1zM190 223h5v1h-5zM190 193h1v30h-1zM194 194h1v29h-1zM286 181h5v1h-5zM272 252h1v1h-1zM286 191h1v11h-1zM290 191h1v11h-1zM216 219h1v20h-1zM270 247h5v1h-5zM270 240h1v7h-1zM274 240h1v7h-1zM222 202h5v1h-5zM286 202h2v1h-2zM289 202h2v1h-2zM214 218h5v1h-5zM214 210h1v8h-1zM218 206h1v12h-1zM184 236h1v3h-1zM168 240h1v8h-1zM208 240h1v6h-1zM496 240h1v10h-1zM206 220h5v1h-5zM494 229h5v1h-5zM206 219h1v1h-1zM210 219h1v1h-1zM494 219h1v10h-1zM498 219h1v10h-1zM182 235h5v1h-5zM182 226h1v9h-1zM186 226h1v9h-1zM176 250h1v23h-1zM264 270h1v2h-1zM160 273h1v35h-1zM174 240h1v9h-1zM178 240h1v9h-1zM166 263h5v1h-5zM262 248h5v1h-5zM166 249h1v14h-1zM170 249h1v14h-1zM174 249h5v1h-5zM262 249h1v8h-1zM266 249h1v8h-1zM262 257h2v1h-2zM265 257h2v1h-2zM158 272h5v1h-5zM256 294h1v3h-1zM158 261h1v11h-1zM162 261h1v11h-1zM254 268h2v1h-2zM257 268h2v1h-2zM254 262h1v6h-1zM258 262h1v6h-1zM152 294h1v4h-1zM150 293h5v1h-5zM150 274h1v19h-1zM154 274h1v19h-1zM144 278h1v18h-1zM128 281h1v16h-1zM142 322h5v1h-5zM126 355h5v1h-5zM142 297h1v25h-1zM146 297h1v25h-1zM126 298h1v57h-1zM130 298h1v57h-1zM120 370h1v6h-1zM0 372h1v20h-1zM112 395h1v14h-1zM118 369h5v1h-5zM118 363h1v6h-1zM122 365h1v4h-1zM0 371h3v1h-3zM2 358h1v13h-1zM96 365h1v5h-1zM110 394h5v1h-5zM110 369h1v25h-1zM114 369h1v25h-1zM94 370h5v1h-5zM94 371h1v50h-1zM98 420h1v2h-1zM80 451h1v5h-1zM88 435h1v1h-1zM40 444h1v2h-1zM96 422h3v1h-3zM32 466h1v7h-1zM86 424h5v1h-5zM86 425h1v7h-1zM90 425h1v6h-1zM78 450h5v1h-5zM78 433h1v17h-1zM82 433h1v17h-1zM38 443h5v1h-5zM38 435h1v8h-1zM42 435h1v8h-1zM72 442h1v7h-1zM30 465h5v1h-5zM70 467h5v1h-5zM30 450h1v15h-1zM34 450h1v15h-1zM70 450h1v17h-1zM74 450h1v17h-1z"/><path fill="rgb(119,136,153)" d="M0 91h8v1h-8zM11 91h101v1h-101zM113 91h79v1h-79zM193 91h127v1h-127zM321 91h7v1h-7zM329 91h47v1h-47zM377 91h29v1h-29zM411 91h17v1h-17zM430 91h10v1h-10zM441 91h5v1h-5zM451 91h4v1h-4zM466 91h84v1h-84zM555 91h13v1h-13zM569 91h5v1h-5zM579 91h193v1h-193z"/><path fill="rgb(44,170,102)" d="M672 120h1v2h-1zM680 121h1v3h-1zM640 124h1v2h-1zM648 124h1v2h-1zM656 123h1v3h-1zM688 125h1v2h-1zM664 126h1v2h-1zM672 125h1v3h-1zM680 127h1v3h-1zM640 129h1v3h-1zM648 129h1v3h-1zM656 129h1v3h-1zM696 130h1v2h-1zM688 130h1v3h-1zM632 131h1v3h-1zM664 131h1v3h-1zM672 131h1v3h-1zM680 133h1v3h-1zM640 135h1v3h-1zM648 135h1v3h-1zM656 135h1v3h-1zM696 135h1v3h-1zM688 136h1v3h-1zM624 139h1v1h-1zM632 137h1v3h-1zM664 137h1v3h-1zM672 137h1v3h-1zM680 139h1v3h-1zM640 141h1v3h-1zM648 141h1v3h-1zM656 141h1v3h-1zM696 141h1v3h-1zM704 141h1v3h-1zM688 142h1v3h-1zM624 143h1v3h-1zM632 143h1v3h-1zM664 143h1v3h-1zM672 143h1v3h-1zM680 145h1v3h-1zM640 147h1v3h-1zM648 147h1v3h-1zM656 147h1v3h-1zM696 147h1v3h-1zM704 147h1v3h-1zM712 148h1v2h-1zM688 148h1v3h-1zM720 149h1v2h-1zM768 148h1v3h-1zM624 149h1v2h-1zM632 149h1v2h-1zM664 149h1v2h-1zM672 149h1v2h-1zM760 152h1v1h-1zM680 152h1v2h-1zM616 153h1v3h-1zM640 153h1v3h-1zM648 153h1v3h-1zM656 153h1v3h-1zM696 153h1v3h-1zM704 153h1v3h-1zM712 153h1v3h-1zM688 154h1v3h-1zM720 154h1v3h-1zM768 154h1v3h-1zM624 155h1v3h-1zM632 155h1v3h-1zM664 155h1v3h-1zM672 155h1v3h-1zM760 156h1v3h-1zM680 157h1v3h-1zM728 159h1v2h-1zM736 159h1v2h-1zM616 159h1v3h-1zM640 159h1v3h-1zM648 159h1v3h-1zM656 159h1v3h-1zM696 159h1v3h-1zM704 159h1v3h-1zM712 159h1v3h-1zM688 160h1v3h-1zM720 160h1v3h-1zM752 161h1v2h-1zM624 161h1v3h-1zM632 161h1v3h-1zM664 161h1v3h-1zM672 161h1v3h-1zM744 162h1v2h-1zM576 163h1v2h-1zM584 163h1v2h-1zM592 162h1v3h-1zM600 163h1v2h-1zM608 163h1v2h-1zM760 162h1v3h-1zM680 163h1v3h-1zM728 164h1v3h-1zM736 164h1v3h-1zM616 165h1v3h-1zM640 165h1v3h-1zM648 165h1v3h-1zM656 165h1v3h-1zM696 165h1v3h-1zM704 165h1v3h-1zM712 165h1v3h-1zM688 166h1v3h-1zM720 166h1v3h-1zM752 166h1v3h-1zM624 167h1v3h-1zM632 167h1v3h-1zM664 167h1v3h-1zM672 167h1v3h-1zM744 167h1v3h-1zM576 168h1v3h-1zM584 168h1v3h-1zM592 168h1v3h-1zM600 168h1v3h-1zM608 168h1v3h-1zM680 169h1v3h-1zM728 170h1v3h-1zM736 170h1v3h-1zM616 171h1v3h-1zM640 171h1v3h-1zM648 171h1v3h-1zM656 171h1v3h-1zM696 171h1v3h-1zM704 171h1v3h-1zM712 171h1v3h-1zM560 173h1v2h-1zM568 173h1v2h-1zM688 172h1v3h-1zM720 172h1v3h-1zM624 173h1v3h-1zM632 173h1v3h-1zM664 173h1v3h-1zM672 173h1v3h-1zM744 173h1v3h-1zM576 174h1v3h-1zM584 174h1v3h-1zM592 174h1v3h-1zM600 174h1v3h-1zM608 174h1v3h-1zM680 175h1v3h-1zM728 176h1v3h-1zM736 176h1v3h-1zM616 177h1v3h-1zM640 177h1v3h-1zM648 177h1v3h-1zM656 177h1v3h-1zM696 177h1v3h-1zM704 177h1v3h-1zM712 177h1v3h-1zM560 178h1v3h-1zM568 178h1v3h-1zM688 178h1v3h-1zM720 178h1v3h-1zM624 179h1v3h-1zM632 179h1v3h-1zM664 179h1v3h-1zM672 179h1v3h-1zM744 179h1v3h-1zM576 180h1v3h-1zM584 180h1v3h-1zM592 180h1v3h-1zM600 180h1v3h-1zM608 180h1v3h-1zM680 181h1v3h-1zM552 182h1v3h-1zM728 182h1v3h-1zM736 182h1v3h-1zM616 183h1v3h-1zM640 183h1v3h-1zM648 183h1v3h-1zM656 183h1v3h-1zM696 183h1v3h-1zM704 183h1v3h-1zM712 183h1v3h-1zM560 184h1v3h-1zM568 184h1v3h-1zM616 189h1v1h-1zM624 185h1v3h-1zM632 185h1v3h-1zM640 189h1v1h-1zM648 189h1v1h-1zM656 189h1v1h-1zM664 185h1v3h-1zM672 185h1v3h-1zM688 184h1v3h-1zM696 189h1v1h-1zM704 189h1v1h-1zM712 189h1v1h-1zM720 184h1v3h-1zM576 186h1v3h-1zM584 186h1v3h-1zM592 186h1v3h-1zM600 186h1v3h-1zM608 186h1v3h-1zM680 187h1v3h-1zM552 188h1v2h-1zM728 188h1v2h-1zM736 188h1v2h-1zM616 191h1v1h-1zM640 191h1v1h-1zM648 191h1v1h-1zM656 191h1v1h-1zM696 191h1v1h-1zM704 191h1v1h-1zM712 191h1v1h-1zM560 191h1v2h-1zM568 191h1v2h-1zM688 191h1v2h-1zM720 191h1v2h-1zM544 192h1v2h-1zM624 191h1v3h-1zM632 191h1v3h-1zM664 191h1v3h-1zM672 191h1v3h-1zM576 192h1v3h-1zM584 192h1v3h-1zM592 192h1v3h-1zM600 192h1v3h-1zM608 192h1v3h-1zM680 193h1v3h-1zM552 194h1v3h-1zM728 194h1v3h-1zM616 195h1v3h-1zM640 195h1v3h-1zM648 195h1v3h-1zM656 195h1v3h-1zM696 195h1v3h-1zM704 195h1v3h-1zM712 195h1v3h-1zM560 196h1v3h-1zM568 196h1v3h-1zM688 196h1v3h-1zM720 196h1v3h-1zM544 197h1v3h-1zM624 197h1v3h-1zM632 197h1v3h-1zM664 197h1v3h-1zM672 197h1v3h-1zM576 198h1v3h-1zM584 198h1v3h-1zM592 198h1v3h-1zM600 198h1v3h-1zM608 198h1v3h-1zM680 199h1v3h-1zM536 201h1v2h-1zM552 200h1v3h-1zM728 200h1v3h-1zM616 201h1v3h-1zM640 201h1v3h-1zM648 201h1v3h-1zM656 201h1v3h-1zM696 201h1v3h-1zM704 201h1v3h-1zM712 201h1v3h-1zM560 202h1v3h-1zM568 202h1v3h-1zM688 202h1v3h-1zM720 202h1v3h-1zM544 203h1v3h-1zM624 203h1v3h-1zM632 203h1v3h-1zM664 203h1v3h-1zM672 203h1v3h-1zM576 204h1v3h-1zM584 204h1v3h-1zM592 204h1v3h-1zM600 204h1v3h-1zM608 204h1v3h-1zM680 205h1v3h-1zM536 206h1v3h-1zM552 206h1v3h-1zM728 206h1v3h-1zM616 207h1v3h-1zM640 207h1v3h-1zM648 207h1v3h-1zM656 207h1v3h-1zM696 207h1v3h-1zM704 207h1v3h-1zM712 207h1v3h-1zM560 208h1v3h-1zM568 208h1v3h-1zM688 208h1v3h-1zM720 208h1v3h-1zM544 209h1v3h-1zM624 209h1v3h-1zM632 209h1v3h-1zM664 209h1v3h-1zM672 209h1v3h-1zM576 210h1v3h-1zM584 210h1v3h-1zM592 210h1v3h-1zM600 210h1v3h-1zM608 210h1v3h-1zM528 213h1v1h-1zM680 211h1v3h-1zM536 212h1v3h-1zM552 212h1v3h-1zM616 213h1v3h-1zM640 213h1v3h-1zM648 213h1v3h-1zM656 213h1v3h-1zM696 213h1v3h-1zM704 213h1v3h-1zM712 213h1v3h-1zM560 214h1v3h-1zM568 214h1v3h-1zM688 214h1v3h-1zM544 215h1v3h-1zM624 215h1v3h-1zM632 215h1v3h-1zM664 215h1v3h-1zM672 215h1v3h-1zM576 216h1v3h-1zM584 216h1v3h-1zM592 216h1v3h-1zM600 216h1v3h-1zM608 216h1v3h-1zM528 217h1v3h-1zM680 217h1v3h-1zM536 218h1v3h-1zM552 218h1v3h-1zM616 219h1v3h-1zM640 219h1v3h-1zM648 219h1v3h-1zM656 219h1v3h-1zM696 219h1v3h-1zM704 219h1v3h-1zM560 220h1v3h-1zM568 220h1v3h-1zM688 220h1v3h-1zM544 221h1v3h-1zM624 221h1v3h-1zM632 221h1v3h-1zM664 221h1v3h-1zM672 221h1v3h-1zM576 222h1v3h-1zM584 222h1v3h-1zM592 222h1v3h-1zM600 222h1v3h-1zM608 222h1v3h-1zM528 223h1v3h-1zM680 223h1v3h-1zM536 224h1v3h-1zM552 224h1v3h-1zM616 225h1v3h-1zM640 225h1v3h-1zM648 225h1v3h-1zM656 225h1v3h-1zM696 225h1v3h-1zM704 225h1v3h-1zM560 226h1v3h-1zM568 226h1v3h-1zM688 226h1v3h-1zM544 227h1v3h-1zM624 227h1v3h-1zM632 227h1v3h-1zM664 227h1v3h-1zM672 227h1v3h-1zM576 228h1v3h-1zM584 228h1v3h-1zM592 228h1v3h-1zM600 228h1v3h-1zM608 228h1v3h-1zM528 229h1v3h-1zM680 229h1v3h-1zM536 230h1v3h-1zM552 230h1v3h-1zM616 231h1v3h-1zM640 231h1v3h-1zM648 231h1v3h-1zM656 231h1v3h-1zM696 231h1v3h-1zM560 232h1v3h-1zM568 232h1v3h-1zM688 232h1v3h-1zM512 236h1v1h-1zM520 235h1v2h-1zM544 233h1v3h-1zM560 238h1v1h-1zM568 238h1v1h-1zM576 234h1v3h-1zM584 234h1v3h-1zM592 234h1v3h-1zM600 234h1v3h-1zM608 234h1v3h-1zM624 233h1v3h-1zM632 233h1v3h-1zM664 233h1v3h-1zM672 233h1v3h-1zM688 238h1v1h-1zM528 235h1v3h-1zM680 235h1v3h-1zM536 236h1v3h-1zM552 236h1v3h-1zM616 237h1v2h-1zM640 237h1v2h-1zM648 237h1v2h-1zM656 237h1v2h-1zM560 240h1v1h-1zM568 240h1v1h-1zM688 240h1v1h-1zM544 240h1v2h-1zM624 240h1v2h-1zM632 240h1v2h-1zM664 240h1v2h-1zM672 240h1v2h-1zM512 240h1v3h-1zM520 240h1v3h-1zM576 240h1v3h-1zM584 240h1v3h-1zM592 240h1v3h-1zM600 240h1v3h-1zM608 240h1v3h-1zM528 241h1v3h-1zM536 242h1v3h-1zM552 242h1v3h-1zM616 243h1v3h-1zM640 243h1v3h-1zM560 244h1v3h-1zM568 244h1v3h-1zM544 245h1v3h-1zM624 245h1v3h-1zM632 245h1v3h-1zM512 246h1v3h-1zM520 246h1v3h-1zM576 246h1v3h-1zM584 246h1v3h-1zM592 246h1v3h-1zM600 246h1v3h-1zM608 246h1v3h-1zM528 247h1v3h-1zM536 248h1v3h-1zM552 248h1v3h-1zM616 249h1v3h-1zM560 250h1v3h-1zM568 250h1v3h-1zM544 251h1v3h-1zM624 251h1v3h-1zM512 252h1v3h-1zM520 252h1v3h-1zM576 252h1v3h-1zM584 252h1v3h-1zM592 252h1v3h-1zM600 252h1v3h-1zM608 252h1v3h-1zM528 253h1v3h-1zM536 254h1v3h-1zM552 254h1v3h-1zM616 255h1v3h-1zM504 257h1v2h-1zM560 256h1v3h-1zM568 256h1v3h-1zM544 257h1v3h-1zM512 258h1v3h-1zM520 258h1v3h-1zM576 258h1v3h-1zM584 258h1v3h-1zM592 258h1v3h-1zM600 258h1v3h-1zM608 258h1v3h-1zM528 259h1v3h-1zM496 261h1v2h-1zM536 260h1v3h-1zM552 260h1v3h-1zM616 261h1v3h-1zM504 262h1v3h-1zM560 262h1v3h-1zM568 262h1v3h-1zM544 263h1v3h-1zM512 264h1v3h-1zM520 264h1v3h-1zM576 264h1v3h-1zM584 264h1v3h-1zM592 264h1v3h-1zM600 264h1v3h-1zM608 264h1v3h-1zM528 265h1v3h-1zM496 266h1v3h-1zM536 266h1v3h-1zM552 266h1v3h-1zM616 267h1v3h-1zM504 268h1v3h-1zM560 268h1v3h-1zM568 268h1v3h-1zM544 269h1v3h-1zM512 270h1v3h-1zM520 270h1v3h-1zM576 270h1v3h-1zM584 270h1v3h-1zM592 270h1v3h-1zM600 270h1v3h-1zM608 270h1v3h-1zM528 271h1v3h-1zM488 273h1v2h-1zM496 272h1v3h-1zM536 272h1v3h-1zM552 272h1v3h-1zM456 274h1v2h-1zM464 275h1v2h-1zM472 274h1v3h-1zM480 275h1v2h-1zM504 274h1v3h-1zM560 274h1v3h-1zM568 274h1v3h-1zM544 275h1v3h-1zM512 276h1v3h-1zM520 276h1v3h-1zM576 276h1v3h-1zM584 276h1v3h-1zM592 276h1v3h-1zM600 276h1v3h-1zM608 276h1v3h-1zM528 277h1v3h-1zM488 278h1v3h-1zM496 278h1v3h-1zM536 278h1v3h-1zM552 278h1v3h-1zM456 279h1v3h-1zM464 280h1v3h-1zM472 280h1v3h-1zM480 280h1v3h-1zM504 280h1v3h-1zM512 282h1v3h-1zM520 282h1v3h-1zM488 284h1v3h-1zM496 284h1v3h-1zM456 285h1v3h-1zM464 286h1v3h-1zM472 286h1v3h-1zM480 286h1v3h-1zM504 286h1v3h-1zM512 288h1v3h-1zM520 288h1v3h-1zM488 290h1v3h-1zM496 290h1v3h-1zM456 291h1v3h-1zM464 292h1v3h-1zM472 292h1v3h-1zM480 292h1v3h-1zM504 292h1v3h-1zM512 294h1v3h-1zM488 296h1v3h-1zM496 296h1v3h-1zM456 297h1v3h-1zM464 298h1v3h-1zM472 298h1v3h-1zM480 298h1v3h-1zM504 298h1v3h-1zM488 302h1v3h-1zM496 302h1v3h-1zM504 304h1v3h-1zM488 308h1v3h-1zM496 308h1v3h-1zM504 310h1v3h-1zM488 314h1v3h-1zM672 245h1v1h-1zM680 241h1v3h-1zM656 243h1v3h-1zM640 249h1v3h-1zM648 243h1v3h-1zM688 244h1v1h-1zM664 245h1v3h-1zM696 237h1v2h-1zM632 251h1v3h-1zM624 257h1v3h-1zM704 231h1v1h-1zM712 219h1v3h-1zM768 160h1v3h-1zM720 214h1v2h-1zM760 168h1v3h-1zM616 273h1v3h-1zM728 212h1v3h-1zM736 194h1v3h-1zM752 172h1v3h-1zM592 282h1v3h-1zM744 185h1v2h-1zM576 282h1v3h-1zM584 282h1v3h-1zM600 282h1v3h-1zM608 282h1v3h-1zM560 280h1v3h-1zM568 280h1v3h-1zM552 284h1v2h-1zM544 281h1v3h-1zM536 284h1v2h-1zM528 283h1v3h-1zM520 294h1v3h-1zM512 300h1v1h-1zM504 316h1v1h-1zM496 314h1v3h-1zM488 320h1v3h-1zM456 303h1v2h-1zM472 304h1v1h-1zM464 304h1v1h-1zM480 304h1v3h-1z"/></svg>
<div class="t" style="left:14.4px;top:3px;color:#000;transform:scaleX(0.96);">XAUUSD,Daily</div><div class="t" style="left:84.9px;top:3px;color:#000;transform:scaleX(0.897);">1244.80</div><div class="t" style="left:121.0px;top:3px;color:#000;transform:scaleX(0.897);">1246.62</div><div class="t" style="left:157.10000000000002px;top:3px;color:#000;transform:scaleX(0.897);">1242.47</div><div class="t" style="left:193.20000000000002px;top:3px;color:#000;transform:scaleX(0.897);">1243.26</div><div class="t" style="left:778.5px;top:28px;color:#000;transform:scaleX(0.891);">1261.20</div><div class="t" style="left:778.5px;top:61px;color:#000;transform:scaleX(0.891);">1251.30</div><div class="t" style="left:778.5px;top:94px;color:#000;transform:scaleX(0.891);">1241.10</div><div class="t" style="left:778.5px;top:127px;color:#000;transform:scaleX(0.891);">1230.90</div><div class="t" style="left:778.5px;top:160px;color:#000;transform:scaleX(0.891);">1221.00</div><div class="t" style="left:778.5px;top:193px;color:#000;transform:scaleX(0.891);">1210.80</div><div class="t" style="left:778.5px;top:226px;color:#000;transform:scaleX(0.891);">1200.60</div><div class="t" style="left:778.5px;top:259px;color:#000;transform:scaleX(0.891);">1190.70</div><div class="t" style="left:778.5px;top:292px;color:#000;transform:scaleX(0.891);">1180.50</div><div class="t" style="left:778.5px;top:325px;color:#000;transform:scaleX(0.891);">1170.30</div><div class="t" style="left:778.5px;top:358px;color:#000;transform:scaleX(0.891);">1160.10</div><div class="t" style="left:778.5px;top:391px;color:#000;transform:scaleX(0.891);">1150.20</div><div class="t" style="left:778.5px;top:424px;color:#000;transform:scaleX(0.891);">1140.00</div><div class="t" style="left:778.5px;top:457px;color:#000;transform:scaleX(0.891);">1129.80</div><div class="t" style="left:778.5px;top:490px;color:#000;transform:scaleX(0.891);">1119.90</div><div class="b" style="top:86px;height:11px;background:#000"><div class="t" style="left:4.5px;top:1px;color:#fff;transform:scaleX(0.891)">1243.26</div></div><div class="b" style="top:14px;height:11px;background:#f00"><div class="t" style="left:4.5px;top:1px;color:#fff;transform:scaleX(0.891)">1265.00</div></div><div class="b" style="top:76px;height:11px;background:#f00"><div class="t" style="left:4.5px;top:1px;color:#fff;transform:scaleX(0.891)">1246.00</div></div><div class="b" style="top:105px;height:11px;background:#f00"><div class="t" style="left:4.5px;top:1px;color:#fff;transform:scaleX(0.891)">1237.00</div></div><div class="b" style="top:145px;height:11px;background:#f00"><div class="t" style="left:4.5px;top:1px;color:#fff;transform:scaleX(0.891)">1225.00</div></div><div class="b" style="top:184px;height:11px;background:#f00"><div class="t" style="left:4.5px;top:1px;color:#fff;transform:scaleX(0.891)">1213.00</div></div><div class="b" style="top:233px;height:11px;background:#f00"><div class="t" style="left:4.5px;top:1px;color:#fff;transform:scaleX(0.891)">1198.00</div></div><div class="t" style="left:-0.9px;top:502px;color:#000;transform:scaleX(0.905);">12 Dec 2016</div><div class="t" style="left:63.1px;top:502px;color:#000;transform:scaleX(0.905);">22 Dec 2016</div><div class="t" style="left:127.1px;top:502px;color:#000;transform:scaleX(0.905);">5 Jan 2017</div><div class="t" style="left:191.1px;top:502px;color:#000;transform:scaleX(0.905);">17 Jan 2017</div><div class="t" style="left:255.1px;top:502px;color:#000;transform:scaleX(0.905);">27 Jan 2017</div><div class="t" style="left:319.1px;top:502px;color:#000;transform:scaleX(0.905);">8 Feb 2017</div><div class="t" style="left:383.1px;top:502px;color:#000;transform:scaleX(0.905);">20 Feb 2017</div><div class="t" style="left:447.1px;top:502px;color:#000;transform:scaleX(0.905);">2 Mar 2017</div><div class="t" style="left:511.1px;top:502px;color:#000;transform:scaleX(0.905);">14 Mar 2017</div><div class="t" style="left:575.1px;top:502px;color:#000;transform:scaleX(0.905);">24 Mar 2017</div>
</body></html>
